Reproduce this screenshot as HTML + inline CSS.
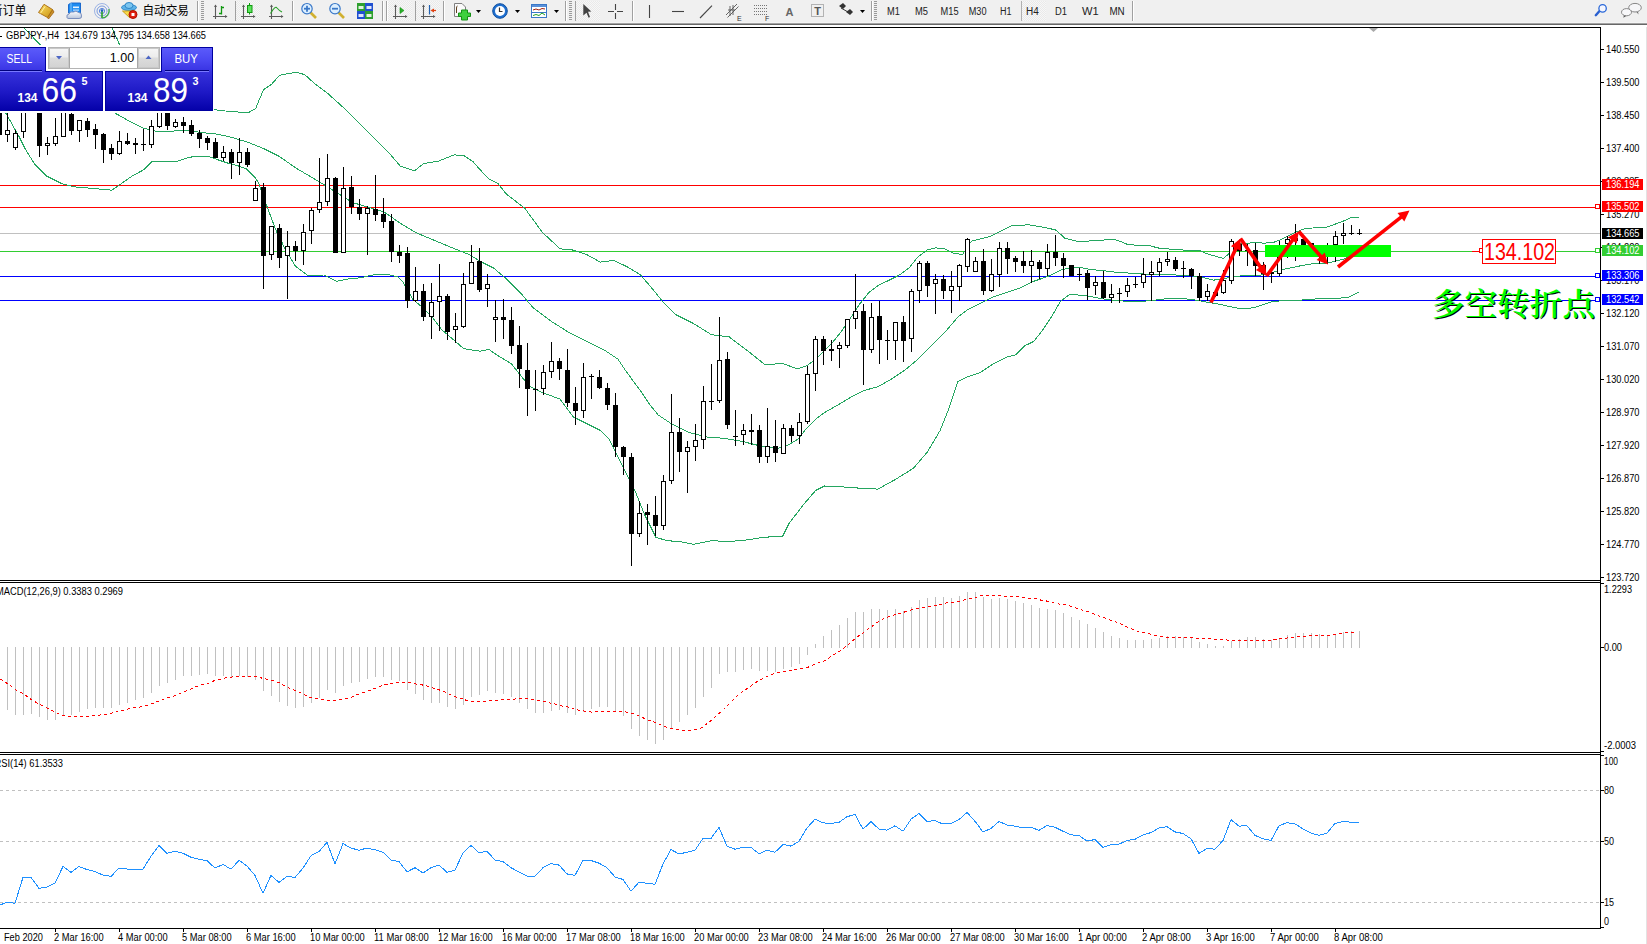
<!DOCTYPE html>
<html><head><meta charset="utf-8"><title>GBPJPY-,H4</title>
<style>html,body{margin:0;padding:0;background:#fff;overflow:hidden;width:1647px;height:944px}svg{display:block}text{white-space:pre}</style>
</head><body><svg width="1647" height="944" viewBox="0 0 1647 944"><defs>
<linearGradient id="gPanel" gradientUnits="userSpaceOnUse" x1="0" y1="47" x2="0" y2="111"><stop offset="0" stop-color="#5c5cfb"/><stop offset="0.2" stop-color="#4b48f2"/><stop offset="0.36" stop-color="#3a35e4"/><stop offset="0.4" stop-color="#3530da"/><stop offset="0.7" stop-color="#1e19c6"/><stop offset="1" stop-color="#0400a8"/></linearGradient>
<linearGradient id="gTop" x1="0" y1="0" x2="0" y2="1"><stop offset="0" stop-color="#5e5ef9"/><stop offset="1" stop-color="#3d3de9"/></linearGradient>
<linearGradient id="gBox" x1="0" y1="0" x2="0" y2="1"><stop offset="0" stop-color="#3b3be3"/><stop offset="1" stop-color="#0303ae"/></linearGradient>
<linearGradient id="gBtn" x1="0" y1="0" x2="0" y2="1"><stop offset="0" stop-color="#f6f6f6"/><stop offset="0.45" stop-color="#ececec"/><stop offset="0.5" stop-color="#dcdcdc"/><stop offset="1" stop-color="#d2d2d2"/></linearGradient>
<linearGradient id="gTb" x1="0" y1="0" x2="0" y2="1"><stop offset="0" stop-color="#d6d6d6"/><stop offset="0.33" stop-color="#a2a2a2"/><stop offset="1" stop-color="#6a6a6a"/></linearGradient>
<linearGradient id="gGold" x1="0" y1="0" x2="1" y2="1"><stop offset="0" stop-color="#ffe36a"/><stop offset="1" stop-color="#c8900e"/></linearGradient>
<linearGradient id="gCloud" x1="0" y1="0" x2="0" y2="1"><stop offset="0" stop-color="#ffffff"/><stop offset="1" stop-color="#b9c6dc"/></linearGradient>
<pattern id="chk" width="2" height="2" patternUnits="userSpaceOnUse"><rect width="2" height="2" fill="#f7f7f7"/><rect width="1" height="1" fill="#e9e9e9"/><rect x="1" y="1" width="1" height="1" fill="#e9e9e9"/></pattern>
</defs><rect x="0" y="0" width="1647" height="944" fill="#ffffff" /><rect x="0" y="185" width="1600" height="1" fill="#ff0000" /><rect x="0" y="207" width="1600" height="1" fill="#ff0000" /><rect x="0" y="233" width="1600" height="1" fill="#c0c0c0" /><rect x="0" y="251" width="1600" height="1" fill="#32cd32" /><rect x="0" y="276" width="1600" height="1" fill="#0000ff" /><rect x="0" y="300" width="1600" height="1" fill="#0000ff" /><polyline points="100.0,0.0 111.5,27.0 119.5,44.7 140.0,70.0 170.0,95.0 200.0,108.0 214.3,109.7 225.4,111.0 238.1,112.0 247.7,112.9 255.6,108.8 258.8,100.8 263.6,89.7 271.5,84.3 279.4,75.4 287.4,73.8 296.9,72.2 304.9,74.8 314.4,83.4 327.1,92.9 343.0,107.2 358.9,123.1 374.8,139.0 390.7,154.9 400.2,166.0 414.5,170.7 424.0,163.4 438.3,161.2 454.2,154.9 463.7,155.5 473.3,161.9 479.6,169.2 488.9,178.9 497.8,183.4 506.7,194.5 524.5,207.9 542.3,232.3 560.1,248.8 573.5,250.1 586.8,254.6 600.2,262.1 613.5,260.4 626.9,266.6 640.2,274.6 653.6,290.2 662.5,301.3 675.8,314.7 693.6,323.6 711.4,334.7 729.2,336.9 747.0,350.3 764.8,364.5 782.6,363.6 788.9,365.8 797.8,368.9 806.7,365.8 815.6,359.2 824.5,350.3 833.4,341.4 842.3,330.2 851.2,316.9 860.1,303.5 869.0,292.4 877.9,285.7 891.3,279.1 900.2,274.6 909.1,267.9 918.0,256.8 926.9,250.1 935.8,247.9 944.7,248.8 953.6,253.2 962.5,254.6 971.4,241.2 980.3,239.0 989.2,236.8 998.1,232.3 1011.4,225.7 1029.2,224.8 1047.0,227.9 1055.9,230.1 1064.8,238.1 1080.0,241.9 1090.6,240.9 1101.1,240.1 1115.2,239.6 1120.5,241.4 1127.5,244.4 1138.1,245.4 1150.4,245.8 1157.5,247.9 1171.6,249.3 1185.7,250.2 1199.7,250.5 1206.8,253.7 1215.6,256.3 1223.5,258.5 1227.9,254.6 1233.2,247.5 1240.2,243.7 1247.3,243.1 1256.1,242.8 1264.9,243.1 1273.7,242.3 1280.7,239.6 1287.8,236.1 1294.8,232.6 1303.6,229.1 1314.2,227.8 1326.5,227.3 1333.6,224.7 1344.1,220.8 1351.2,217.6 1358.7,217.3" fill="none" stroke="#24a660" stroke-width="1" shape-rendering="crispEdges"/><polyline points="15.0,15.0 23.3,27.0 40.0,44.7 60.0,62.0 90.0,88.0 116.4,113.9 130.4,121.7 142.8,127.9 155.2,131.0 173.9,131.0 186.3,130.4 201.8,132.6 217.3,134.1 231.8,137.4 247.7,142.2 263.6,148.5 279.4,156.5 295.3,167.6 311.2,177.1 327.1,186.6 339.8,194.6 352.5,202.5 368.4,207.3 384.3,212.1 400.2,223.2 416.1,232.7 435.1,240.7 454.2,248.6 470.1,255.0 480.0,261.3 493.4,267.9 506.7,279.1 520.1,292.4 533.4,308.0 551.2,321.3 569.0,332.5 586.8,341.4 604.6,350.3 618.0,359.2 626.9,372.5 640.2,390.3 649.1,403.7 658.0,414.8 671.4,423.7 689.2,432.6 707.0,437.0 724.8,438.4 742.6,441.5 760.4,446.0 778.2,448.2 788.9,444.6 797.8,439.3 806.7,428.1 815.6,419.2 824.5,412.6 837.9,405.0 851.2,397.0 864.6,390.3 877.9,386.8 891.3,379.2 904.6,370.3 918.0,359.2 931.3,345.8 944.7,332.5 958.0,316.9 966.9,310.2 980.3,303.5 993.5,296.9 1007.0,292.4 1020.3,288.0 1033.7,281.3 1047.0,276.8 1060.4,270.2 1069.3,267.9 1082.6,267.9 1090.6,269.6 1101.1,270.4 1115.2,272.2 1129.3,273.1 1143.4,274.0 1157.5,274.8 1171.6,274.8 1185.7,275.4 1199.7,276.6 1206.8,278.4 1213.8,280.1 1220.9,279.2 1229.7,277.5 1238.5,276.1 1247.3,275.4 1256.1,275.4 1263.2,274.8 1273.7,272.2 1282.5,269.6 1291.3,267.8 1301.9,265.5 1312.4,263.7 1326.5,263.0 1335.3,261.3 1344.1,259.0 1351.2,255.5 1358.7,253.7" fill="none" stroke="#24a660" stroke-width="1" shape-rendering="crispEdges"/><polyline points="0.0,105.0 6.2,113.9 12.4,124.8 18.6,135.7 24.8,148.1 34.2,163.6 46.6,176.0 62.1,183.8 74.5,186.9 93.1,188.4 111.7,190.2 121.2,183.7 131.8,176.3 143.4,169.9 151.9,161.4 176.3,161.4 190.0,157.2 198.5,156.1 208.0,156.4 216.5,159.3 229.2,163.6 237.7,165.7 246.2,168.9 255.7,178.4 258.8,183.5 266.7,205.7 276.3,231.1 285.8,250.2 295.3,266.1 308.0,275.6 323.9,275.0 336.6,281.3 349.3,278.8 362.0,277.6 371.0,275.2 381.0,274.3 390.0,275.0 398.0,277.0 403.0,282.0 407.0,289.0 412.9,299.4 422.4,307.4 432.0,316.9 441.5,329.6 451.0,337.6 463.7,348.7 480.0,351.2 488.9,349.4 497.8,355.6 511.2,363.6 520.1,374.7 529.0,385.9 542.3,392.5 560.1,399.2 573.5,417.0 586.8,423.7 600.2,430.4 609.1,439.3 618.0,457.1 626.9,474.9 635.8,492.7 644.7,514.9 655.8,537.2 666.9,540.7 680.3,541.6 693.6,544.3 711.4,540.7 729.2,541.6 747.0,539.9 764.8,537.2 782.6,536.3 788.9,523.8 802.3,506.0 815.6,490.5 824.5,486.0 842.3,486.9 860.1,488.2 877.9,489.1 895.7,479.3 913.5,468.2 926.9,452.6 940.2,430.4 949.1,408.1 958.0,381.4 966.9,377.0 980.3,372.5 993.6,363.6 1007.0,356.9 1015.9,354.7 1024.8,345.8 1033.7,341.4 1042.6,330.2 1051.5,316.9 1060.4,301.3 1069.3,294.6 1080.0,295.1 1090.6,296.5 1101.1,298.6 1115.2,300.4 1125.8,301.2 1136.3,301.8 1150.4,300.7 1164.5,299.0 1178.6,298.3 1192.7,299.5 1206.8,302.1 1217.3,303.9 1229.7,306.5 1238.5,308.3 1249.0,308.3 1256.1,307.1 1264.9,303.9 1273.7,301.2 1287.8,300.7 1301.9,300.0 1312.4,299.1 1326.5,298.6 1335.3,298.3 1347.7,297.7 1353.0,295.1 1358.7,291.9" fill="none" stroke="#24a660" stroke-width="1" shape-rendering="crispEdges"/><g shape-rendering="crispEdges"><rect x="-3" y="95" width="5" height="40" fill="#000" /><rect x="7" y="95" width="1" height="35" fill="#000" /><rect x="7" y="135" width="1" height="7" fill="#000" /><rect x="5" y="130" width="5" height="5" fill="#000" /><rect x="6" y="131" width="3" height="3" fill="#fff" /><rect x="15" y="130" width="1" height="3" fill="#000" /><rect x="15" y="148" width="1" height="2" fill="#000" /><rect x="13" y="133" width="5" height="15" fill="#000" /><rect x="14" y="134" width="3" height="13" fill="#fff" /><rect x="23" y="132" width="1" height="6" fill="#000" /><rect x="21" y="95" width="5" height="37" fill="#000" /><rect x="22" y="96" width="3" height="35" fill="#fff" /><rect x="39" y="146" width="1" height="11" fill="#000" /><rect x="37" y="95" width="5" height="51" fill="#000" /><rect x="47" y="137" width="1" height="6" fill="#000" /><rect x="47" y="146" width="1" height="9" fill="#000" /><rect x="45" y="143" width="5" height="3" fill="#000" /><rect x="46" y="144" width="3" height="1" fill="#fff" /><rect x="55" y="118" width="1" height="18" fill="#000" /><rect x="55" y="144" width="1" height="2" fill="#000" /><rect x="53" y="136" width="5" height="8" fill="#000" /><rect x="54" y="137" width="3" height="6" fill="#fff" /><rect x="61" y="95" width="5" height="42" fill="#000" /><rect x="62" y="96" width="3" height="40" fill="#fff" /><rect x="71" y="95" width="1" height="19" fill="#000" /><rect x="71" y="131" width="1" height="4" fill="#000" /><rect x="69" y="114" width="5" height="17" fill="#000" /><rect x="79" y="131" width="1" height="11" fill="#000" /><rect x="77" y="120" width="5" height="11" fill="#000" /><rect x="78" y="121" width="3" height="9" fill="#fff" /><rect x="87" y="118" width="1" height="3" fill="#000" /><rect x="87" y="130" width="1" height="7" fill="#000" /><rect x="85" y="121" width="5" height="9" fill="#000" /><rect x="95" y="124" width="1" height="5" fill="#000" /><rect x="95" y="135" width="1" height="14" fill="#000" /><rect x="93" y="129" width="5" height="6" fill="#000" /><rect x="103" y="133" width="1" height="1" fill="#000" /><rect x="103" y="150" width="1" height="13" fill="#000" /><rect x="101" y="134" width="5" height="16" fill="#000" /><rect x="111" y="144" width="1" height="4" fill="#000" /><rect x="111" y="154" width="1" height="6" fill="#000" /><rect x="109" y="148" width="5" height="6" fill="#000" /><rect x="119" y="131" width="1" height="10" fill="#000" /><rect x="119" y="154" width="1" height="1" fill="#000" /><rect x="117" y="141" width="5" height="13" fill="#000" /><rect x="118" y="142" width="3" height="11" fill="#fff" /><rect x="127" y="133" width="1" height="8" fill="#000" /><rect x="127" y="144" width="1" height="1" fill="#000" /><rect x="125" y="141" width="5" height="3" fill="#000" /><rect x="135" y="138" width="1" height="5" fill="#000" /><rect x="135" y="145" width="1" height="9" fill="#000" /><rect x="133" y="143" width="5" height="2" fill="#000" /><rect x="143" y="129" width="1" height="15" fill="#000" /><rect x="143" y="145" width="1" height="6" fill="#000" /><rect x="141" y="144" width="5" height="1" fill="#000" /><rect x="151" y="120" width="1" height="6" fill="#000" /><rect x="151" y="145" width="1" height="3" fill="#000" /><rect x="149" y="126" width="5" height="19" fill="#000" /><rect x="150" y="127" width="3" height="17" fill="#fff" /><rect x="159" y="127" width="1" height="1" fill="#000" /><rect x="157" y="95" width="5" height="32" fill="#000" /><rect x="158" y="96" width="3" height="30" fill="#fff" /><rect x="167" y="126" width="1" height="4" fill="#000" /><rect x="165" y="95" width="5" height="31" fill="#000" /><rect x="175" y="119" width="1" height="3" fill="#000" /><rect x="175" y="127" width="1" height="1" fill="#000" /><rect x="173" y="122" width="5" height="5" fill="#000" /><rect x="174" y="123" width="3" height="3" fill="#fff" /><rect x="183" y="117" width="1" height="5" fill="#000" /><rect x="183" y="126" width="1" height="7" fill="#000" /><rect x="181" y="122" width="5" height="4" fill="#000" /><rect x="191" y="120" width="1" height="5" fill="#000" /><rect x="191" y="134" width="1" height="2" fill="#000" /><rect x="189" y="125" width="5" height="9" fill="#000" /><rect x="199" y="130" width="1" height="3" fill="#000" /><rect x="199" y="139" width="1" height="9" fill="#000" /><rect x="197" y="133" width="5" height="6" fill="#000" /><rect x="207" y="136" width="1" height="2" fill="#000" /><rect x="207" y="143" width="1" height="7" fill="#000" /><rect x="205" y="138" width="5" height="5" fill="#000" /><rect x="215" y="138" width="1" height="4" fill="#000" /><rect x="213" y="142" width="5" height="16" fill="#000" /><rect x="223" y="146" width="1" height="6" fill="#000" /><rect x="223" y="158" width="1" height="3" fill="#000" /><rect x="221" y="152" width="5" height="6" fill="#000" /><rect x="222" y="153" width="3" height="4" fill="#fff" /><rect x="231" y="149" width="1" height="3" fill="#000" /><rect x="231" y="163" width="1" height="16" fill="#000" /><rect x="229" y="152" width="5" height="11" fill="#000" /><rect x="239" y="138" width="1" height="14" fill="#000" /><rect x="239" y="163" width="1" height="12" fill="#000" /><rect x="237" y="152" width="5" height="11" fill="#000" /><rect x="238" y="153" width="3" height="9" fill="#fff" /><rect x="247" y="148" width="1" height="4" fill="#000" /><rect x="247" y="165" width="1" height="2" fill="#000" /><rect x="245" y="152" width="5" height="13" fill="#000" /><rect x="255" y="181" width="1" height="7" fill="#000" /><rect x="253" y="188" width="5" height="13" fill="#000" /><rect x="254" y="189" width="3" height="11" fill="#fff" /><rect x="263" y="183" width="1" height="4" fill="#000" /><rect x="263" y="256" width="1" height="33" fill="#000" /><rect x="261" y="187" width="5" height="69" fill="#000" /><rect x="271" y="255" width="1" height="5" fill="#000" /><rect x="269" y="226" width="5" height="29" fill="#000" /><rect x="270" y="227" width="3" height="27" fill="#fff" /><rect x="279" y="224" width="1" height="4" fill="#000" /><rect x="279" y="258" width="1" height="10" fill="#000" /><rect x="277" y="228" width="5" height="30" fill="#000" /><rect x="287" y="231" width="1" height="15" fill="#000" /><rect x="287" y="256" width="1" height="43" fill="#000" /><rect x="285" y="246" width="5" height="10" fill="#000" /><rect x="286" y="247" width="3" height="8" fill="#fff" /><rect x="295" y="241" width="1" height="5" fill="#000" /><rect x="295" y="251" width="1" height="10" fill="#000" /><rect x="293" y="246" width="5" height="5" fill="#000" /><rect x="303" y="224" width="1" height="8" fill="#000" /><rect x="303" y="251" width="1" height="14" fill="#000" /><rect x="301" y="232" width="5" height="19" fill="#000" /><rect x="302" y="233" width="3" height="17" fill="#fff" /><rect x="311" y="208" width="1" height="2" fill="#000" /><rect x="311" y="231" width="1" height="13" fill="#000" /><rect x="309" y="210" width="5" height="21" fill="#000" /><rect x="310" y="211" width="3" height="19" fill="#fff" /><rect x="319" y="158" width="1" height="44" fill="#000" /><rect x="319" y="210" width="1" height="3" fill="#000" /><rect x="317" y="202" width="5" height="8" fill="#000" /><rect x="318" y="203" width="3" height="6" fill="#fff" /><rect x="327" y="154" width="1" height="24" fill="#000" /><rect x="327" y="202" width="1" height="4" fill="#000" /><rect x="325" y="178" width="5" height="24" fill="#000" /><rect x="326" y="179" width="3" height="22" fill="#fff" /><rect x="335" y="177" width="1" height="1" fill="#000" /><rect x="333" y="178" width="5" height="75" fill="#000" /><rect x="343" y="167" width="1" height="21" fill="#000" /><rect x="341" y="188" width="5" height="65" fill="#000" /><rect x="342" y="189" width="3" height="63" fill="#fff" /><rect x="351" y="176" width="1" height="11" fill="#000" /><rect x="351" y="207" width="1" height="7" fill="#000" /><rect x="349" y="187" width="5" height="20" fill="#000" /><rect x="359" y="199" width="1" height="8" fill="#000" /><rect x="359" y="214" width="1" height="6" fill="#000" /><rect x="357" y="207" width="5" height="7" fill="#000" /><rect x="367" y="206" width="1" height="2" fill="#000" /><rect x="367" y="214" width="1" height="41" fill="#000" /><rect x="365" y="208" width="5" height="6" fill="#000" /><rect x="366" y="209" width="3" height="4" fill="#fff" /><rect x="375" y="175" width="1" height="34" fill="#000" /><rect x="375" y="215" width="1" height="6" fill="#000" /><rect x="373" y="209" width="5" height="6" fill="#000" /><rect x="383" y="198" width="1" height="16" fill="#000" /><rect x="383" y="222" width="1" height="6" fill="#000" /><rect x="381" y="214" width="5" height="8" fill="#000" /><rect x="391" y="214" width="1" height="7" fill="#000" /><rect x="391" y="252" width="1" height="10" fill="#000" /><rect x="389" y="221" width="5" height="31" fill="#000" /><rect x="399" y="245" width="1" height="7" fill="#000" /><rect x="399" y="256" width="1" height="7" fill="#000" /><rect x="397" y="252" width="5" height="4" fill="#000" /><rect x="407" y="247" width="1" height="6" fill="#000" /><rect x="407" y="301" width="1" height="7" fill="#000" /><rect x="405" y="253" width="5" height="48" fill="#000" /><rect x="415" y="267" width="1" height="24" fill="#000" /><rect x="415" y="301" width="1" height="1" fill="#000" /><rect x="413" y="291" width="5" height="10" fill="#000" /><rect x="414" y="292" width="3" height="8" fill="#fff" /><rect x="423" y="284" width="1" height="7" fill="#000" /><rect x="423" y="317" width="1" height="4" fill="#000" /><rect x="421" y="291" width="5" height="26" fill="#000" /><rect x="431" y="283" width="1" height="19" fill="#000" /><rect x="431" y="317" width="1" height="22" fill="#000" /><rect x="429" y="302" width="5" height="15" fill="#000" /><rect x="430" y="303" width="3" height="13" fill="#fff" /><rect x="439" y="264" width="1" height="32" fill="#000" /><rect x="439" y="302" width="1" height="29" fill="#000" /><rect x="437" y="296" width="5" height="6" fill="#000" /><rect x="438" y="297" width="3" height="4" fill="#fff" /><rect x="447" y="294" width="1" height="2" fill="#000" /><rect x="447" y="332" width="1" height="8" fill="#000" /><rect x="445" y="296" width="5" height="36" fill="#000" /><rect x="455" y="313" width="1" height="13" fill="#000" /><rect x="455" y="330" width="1" height="13" fill="#000" /><rect x="453" y="326" width="5" height="4" fill="#000" /><rect x="454" y="327" width="3" height="2" fill="#fff" /><rect x="463" y="273" width="1" height="11" fill="#000" /><rect x="463" y="327" width="1" height="1" fill="#000" /><rect x="461" y="284" width="5" height="43" fill="#000" /><rect x="462" y="285" width="3" height="41" fill="#fff" /><rect x="471" y="245" width="1" height="17" fill="#000" /><rect x="469" y="262" width="5" height="22" fill="#000" /><rect x="470" y="263" width="3" height="20" fill="#fff" /><rect x="479" y="248" width="1" height="13" fill="#000" /><rect x="479" y="290" width="1" height="2" fill="#000" /><rect x="477" y="261" width="5" height="29" fill="#000" /><rect x="487" y="274" width="1" height="10" fill="#000" /><rect x="487" y="289" width="1" height="18" fill="#000" /><rect x="485" y="284" width="5" height="5" fill="#000" /><rect x="486" y="285" width="3" height="3" fill="#fff" /><rect x="495" y="300" width="1" height="17" fill="#000" /><rect x="495" y="320" width="1" height="22" fill="#000" /><rect x="493" y="317" width="5" height="3" fill="#000" /><rect x="494" y="318" width="3" height="1" fill="#fff" /><rect x="503" y="299" width="1" height="18" fill="#000" /><rect x="503" y="320" width="1" height="19" fill="#000" /><rect x="501" y="317" width="5" height="3" fill="#000" /><rect x="511" y="307" width="1" height="13" fill="#000" /><rect x="511" y="346" width="1" height="8" fill="#000" /><rect x="509" y="320" width="5" height="26" fill="#000" /><rect x="519" y="326" width="1" height="19" fill="#000" /><rect x="519" y="369" width="1" height="19" fill="#000" /><rect x="517" y="345" width="5" height="24" fill="#000" /><rect x="527" y="343" width="1" height="27" fill="#000" /><rect x="527" y="389" width="1" height="27" fill="#000" /><rect x="525" y="370" width="5" height="19" fill="#000" /><rect x="535" y="370" width="1" height="19" fill="#000" /><rect x="535" y="390" width="1" height="21" fill="#000" /><rect x="533" y="389" width="5" height="1" fill="#000" /><rect x="543" y="365" width="1" height="7" fill="#000" /><rect x="543" y="389" width="1" height="6" fill="#000" /><rect x="541" y="372" width="5" height="17" fill="#000" /><rect x="542" y="373" width="3" height="15" fill="#fff" /><rect x="551" y="342" width="1" height="19" fill="#000" /><rect x="551" y="372" width="1" height="6" fill="#000" /><rect x="549" y="361" width="5" height="11" fill="#000" /><rect x="550" y="362" width="3" height="9" fill="#fff" /><rect x="559" y="358" width="1" height="3" fill="#000" /><rect x="559" y="369" width="1" height="11" fill="#000" /><rect x="557" y="361" width="5" height="8" fill="#000" /><rect x="567" y="349" width="1" height="21" fill="#000" /><rect x="567" y="403" width="1" height="4" fill="#000" /><rect x="565" y="370" width="5" height="33" fill="#000" /><rect x="575" y="387" width="1" height="16" fill="#000" /><rect x="575" y="411" width="1" height="14" fill="#000" /><rect x="573" y="403" width="5" height="8" fill="#000" /><rect x="583" y="363" width="1" height="14" fill="#000" /><rect x="583" y="411" width="1" height="7" fill="#000" /><rect x="581" y="377" width="5" height="34" fill="#000" /><rect x="582" y="378" width="3" height="32" fill="#fff" /><rect x="591" y="374" width="1" height="2" fill="#000" /><rect x="591" y="377" width="1" height="22" fill="#000" /><rect x="589" y="376" width="5" height="1" fill="#000" /><rect x="599" y="370" width="1" height="7" fill="#000" /><rect x="599" y="388" width="1" height="1" fill="#000" /><rect x="597" y="377" width="5" height="11" fill="#000" /><rect x="607" y="383" width="1" height="5" fill="#000" /><rect x="607" y="405" width="1" height="5" fill="#000" /><rect x="605" y="388" width="5" height="17" fill="#000" /><rect x="615" y="393" width="1" height="12" fill="#000" /><rect x="615" y="447" width="1" height="10" fill="#000" /><rect x="613" y="405" width="5" height="42" fill="#000" /><rect x="623" y="446" width="1" height="1" fill="#000" /><rect x="623" y="457" width="1" height="18" fill="#000" /><rect x="621" y="447" width="5" height="10" fill="#000" /><rect x="631" y="453" width="1" height="4" fill="#000" /><rect x="631" y="534" width="1" height="32" fill="#000" /><rect x="629" y="457" width="5" height="77" fill="#000" /><rect x="639" y="501" width="1" height="12" fill="#000" /><rect x="639" y="534" width="1" height="3" fill="#000" /><rect x="637" y="513" width="5" height="21" fill="#000" /><rect x="638" y="514" width="3" height="19" fill="#fff" /><rect x="647" y="504" width="1" height="8" fill="#000" /><rect x="647" y="515" width="1" height="30" fill="#000" /><rect x="645" y="512" width="5" height="3" fill="#000" /><rect x="655" y="496" width="1" height="19" fill="#000" /><rect x="655" y="526" width="1" height="10" fill="#000" /><rect x="653" y="515" width="5" height="11" fill="#000" /><rect x="663" y="475" width="1" height="6" fill="#000" /><rect x="663" y="526" width="1" height="4" fill="#000" /><rect x="661" y="481" width="5" height="45" fill="#000" /><rect x="662" y="482" width="3" height="43" fill="#fff" /><rect x="671" y="394" width="1" height="38" fill="#000" /><rect x="671" y="481" width="1" height="3" fill="#000" /><rect x="669" y="432" width="5" height="49" fill="#000" /><rect x="670" y="433" width="3" height="47" fill="#fff" /><rect x="679" y="418" width="1" height="14" fill="#000" /><rect x="679" y="452" width="1" height="20" fill="#000" /><rect x="677" y="432" width="5" height="20" fill="#000" /><rect x="687" y="441" width="1" height="6" fill="#000" /><rect x="687" y="452" width="1" height="41" fill="#000" /><rect x="685" y="447" width="5" height="5" fill="#000" /><rect x="686" y="448" width="3" height="3" fill="#fff" /><rect x="695" y="424" width="1" height="16" fill="#000" /><rect x="695" y="447" width="1" height="14" fill="#000" /><rect x="693" y="440" width="5" height="7" fill="#000" /><rect x="694" y="441" width="3" height="5" fill="#fff" /><rect x="703" y="386" width="1" height="15" fill="#000" /><rect x="703" y="440" width="1" height="9" fill="#000" /><rect x="701" y="401" width="5" height="39" fill="#000" /><rect x="702" y="402" width="3" height="37" fill="#fff" /><rect x="711" y="364" width="1" height="37" fill="#000" /><rect x="711" y="402" width="1" height="8" fill="#000" /><rect x="709" y="401" width="5" height="1" fill="#000" /><rect x="719" y="317" width="1" height="43" fill="#000" /><rect x="719" y="401" width="1" height="2" fill="#000" /><rect x="717" y="360" width="5" height="41" fill="#000" /><rect x="718" y="361" width="3" height="39" fill="#fff" /><rect x="727" y="352" width="1" height="7" fill="#000" /><rect x="727" y="425" width="1" height="4" fill="#000" /><rect x="725" y="359" width="5" height="66" fill="#000" /><rect x="735" y="410" width="1" height="26" fill="#000" /><rect x="735" y="437" width="1" height="9" fill="#000" /><rect x="733" y="436" width="5" height="1" fill="#000" /><rect x="743" y="424" width="1" height="6" fill="#000" /><rect x="743" y="435" width="1" height="10" fill="#000" /><rect x="741" y="430" width="5" height="5" fill="#000" /><rect x="742" y="431" width="3" height="3" fill="#fff" /><rect x="751" y="414" width="1" height="16" fill="#000" /><rect x="751" y="432" width="1" height="13" fill="#000" /><rect x="749" y="430" width="5" height="2" fill="#000" /><rect x="759" y="425" width="1" height="5" fill="#000" /><rect x="759" y="457" width="1" height="6" fill="#000" /><rect x="757" y="430" width="5" height="27" fill="#000" /><rect x="767" y="408" width="1" height="38" fill="#000" /><rect x="767" y="457" width="1" height="6" fill="#000" /><rect x="765" y="446" width="5" height="11" fill="#000" /><rect x="766" y="447" width="3" height="9" fill="#fff" /><rect x="775" y="420" width="1" height="26" fill="#000" /><rect x="775" y="453" width="1" height="9" fill="#000" /><rect x="773" y="446" width="5" height="7" fill="#000" /><rect x="783" y="424" width="1" height="4" fill="#000" /><rect x="781" y="428" width="5" height="26" fill="#000" /><rect x="782" y="429" width="3" height="24" fill="#fff" /><rect x="791" y="425" width="1" height="3" fill="#000" /><rect x="791" y="436" width="1" height="6" fill="#000" /><rect x="789" y="428" width="5" height="8" fill="#000" /><rect x="799" y="413" width="1" height="9" fill="#000" /><rect x="799" y="436" width="1" height="8" fill="#000" /><rect x="797" y="422" width="5" height="14" fill="#000" /><rect x="798" y="423" width="3" height="12" fill="#fff" /><rect x="807" y="366" width="1" height="8" fill="#000" /><rect x="807" y="422" width="1" height="2" fill="#000" /><rect x="805" y="374" width="5" height="48" fill="#000" /><rect x="806" y="375" width="3" height="46" fill="#fff" /><rect x="815" y="336" width="1" height="3" fill="#000" /><rect x="815" y="374" width="1" height="17" fill="#000" /><rect x="813" y="339" width="5" height="35" fill="#000" /><rect x="814" y="340" width="3" height="33" fill="#fff" /><rect x="823" y="336" width="1" height="3" fill="#000" /><rect x="823" y="351" width="1" height="14" fill="#000" /><rect x="821" y="339" width="5" height="12" fill="#000" /><rect x="831" y="340" width="1" height="9" fill="#000" /><rect x="831" y="351" width="1" height="10" fill="#000" /><rect x="829" y="349" width="5" height="2" fill="#000" /><rect x="839" y="342" width="1" height="3" fill="#000" /><rect x="839" y="349" width="1" height="19" fill="#000" /><rect x="837" y="345" width="5" height="4" fill="#000" /><rect x="838" y="346" width="3" height="2" fill="#fff" /><rect x="847" y="346" width="1" height="2" fill="#000" /><rect x="845" y="319" width="5" height="27" fill="#000" /><rect x="846" y="320" width="3" height="25" fill="#fff" /><rect x="855" y="274" width="1" height="37" fill="#000" /><rect x="855" y="319" width="1" height="10" fill="#000" /><rect x="853" y="311" width="5" height="8" fill="#000" /><rect x="854" y="312" width="3" height="6" fill="#fff" /><rect x="863" y="304" width="1" height="7" fill="#000" /><rect x="863" y="350" width="1" height="35" fill="#000" /><rect x="861" y="311" width="5" height="39" fill="#000" /><rect x="871" y="303" width="1" height="14" fill="#000" /><rect x="871" y="350" width="1" height="3" fill="#000" /><rect x="869" y="317" width="5" height="33" fill="#000" /><rect x="870" y="318" width="3" height="31" fill="#fff" /><rect x="879" y="301" width="1" height="15" fill="#000" /><rect x="879" y="340" width="1" height="24" fill="#000" /><rect x="877" y="316" width="5" height="24" fill="#000" /><rect x="887" y="330" width="1" height="10" fill="#000" /><rect x="887" y="341" width="1" height="19" fill="#000" /><rect x="885" y="340" width="5" height="1" fill="#000" /><rect x="895" y="341" width="1" height="19" fill="#000" /><rect x="893" y="322" width="5" height="19" fill="#000" /><rect x="894" y="323" width="3" height="17" fill="#fff" /><rect x="903" y="316" width="1" height="6" fill="#000" /><rect x="903" y="341" width="1" height="21" fill="#000" /><rect x="901" y="322" width="5" height="19" fill="#000" /><rect x="911" y="289" width="1" height="2" fill="#000" /><rect x="911" y="339" width="1" height="13" fill="#000" /><rect x="909" y="291" width="5" height="48" fill="#000" /><rect x="910" y="292" width="3" height="46" fill="#fff" /><rect x="919" y="261" width="1" height="2" fill="#000" /><rect x="919" y="291" width="1" height="12" fill="#000" /><rect x="917" y="263" width="5" height="28" fill="#000" /><rect x="918" y="264" width="3" height="26" fill="#fff" /><rect x="927" y="261" width="1" height="2" fill="#000" /><rect x="927" y="286" width="1" height="11" fill="#000" /><rect x="925" y="263" width="5" height="23" fill="#000" /><rect x="935" y="274" width="1" height="5" fill="#000" /><rect x="935" y="284" width="1" height="30" fill="#000" /><rect x="933" y="279" width="5" height="5" fill="#000" /><rect x="934" y="280" width="3" height="3" fill="#fff" /><rect x="943" y="275" width="1" height="4" fill="#000" /><rect x="943" y="291" width="1" height="8" fill="#000" /><rect x="941" y="279" width="5" height="12" fill="#000" /><rect x="951" y="271" width="1" height="15" fill="#000" /><rect x="951" y="291" width="1" height="22" fill="#000" /><rect x="949" y="286" width="5" height="5" fill="#000" /><rect x="950" y="287" width="3" height="3" fill="#fff" /><rect x="959" y="264" width="1" height="1" fill="#000" /><rect x="959" y="287" width="1" height="14" fill="#000" /><rect x="957" y="265" width="5" height="22" fill="#000" /><rect x="958" y="266" width="3" height="20" fill="#fff" /><rect x="967" y="238" width="1" height="1" fill="#000" /><rect x="967" y="267" width="1" height="5" fill="#000" /><rect x="965" y="239" width="5" height="28" fill="#000" /><rect x="966" y="240" width="3" height="26" fill="#fff" /><rect x="975" y="257" width="1" height="4" fill="#000" /><rect x="973" y="261" width="5" height="11" fill="#000" /><rect x="974" y="262" width="3" height="9" fill="#fff" /><rect x="983" y="249" width="1" height="12" fill="#000" /><rect x="983" y="291" width="1" height="4" fill="#000" /><rect x="981" y="261" width="5" height="30" fill="#000" /><rect x="991" y="259" width="1" height="15" fill="#000" /><rect x="991" y="291" width="1" height="1" fill="#000" /><rect x="989" y="274" width="5" height="17" fill="#000" /><rect x="990" y="275" width="3" height="15" fill="#fff" /><rect x="999" y="242" width="1" height="6" fill="#000" /><rect x="999" y="275" width="1" height="12" fill="#000" /><rect x="997" y="248" width="5" height="27" fill="#000" /><rect x="998" y="249" width="3" height="25" fill="#fff" /><rect x="1007" y="242" width="1" height="6" fill="#000" /><rect x="1007" y="259" width="1" height="15" fill="#000" /><rect x="1005" y="248" width="5" height="11" fill="#000" /><rect x="1015" y="256" width="1" height="2" fill="#000" /><rect x="1015" y="262" width="1" height="10" fill="#000" /><rect x="1013" y="258" width="5" height="4" fill="#000" /><rect x="1023" y="251" width="1" height="10" fill="#000" /><rect x="1023" y="266" width="1" height="7" fill="#000" /><rect x="1021" y="261" width="5" height="5" fill="#000" /><rect x="1031" y="250" width="1" height="11" fill="#000" /><rect x="1031" y="266" width="1" height="17" fill="#000" /><rect x="1029" y="261" width="5" height="5" fill="#000" /><rect x="1030" y="262" width="3" height="3" fill="#fff" /><rect x="1039" y="260" width="1" height="2" fill="#000" /><rect x="1039" y="269" width="1" height="10" fill="#000" /><rect x="1037" y="262" width="5" height="7" fill="#000" /><rect x="1047" y="244" width="1" height="8" fill="#000" /><rect x="1047" y="269" width="1" height="7" fill="#000" /><rect x="1045" y="252" width="5" height="17" fill="#000" /><rect x="1046" y="253" width="3" height="15" fill="#fff" /><rect x="1055" y="235" width="1" height="17" fill="#000" /><rect x="1055" y="258" width="1" height="8" fill="#000" /><rect x="1053" y="252" width="5" height="6" fill="#000" /><rect x="1063" y="253" width="1" height="5" fill="#000" /><rect x="1063" y="266" width="1" height="12" fill="#000" /><rect x="1061" y="258" width="5" height="8" fill="#000" /><rect x="1069" y="265" width="5" height="11" fill="#000" /><rect x="1079" y="268" width="1" height="6" fill="#000" /><rect x="1079" y="275" width="1" height="6" fill="#000" /><rect x="1077" y="274" width="5" height="1" fill="#000" /><rect x="1087" y="270" width="1" height="3" fill="#000" /><rect x="1087" y="288" width="1" height="12" fill="#000" /><rect x="1085" y="273" width="5" height="15" fill="#000" /><rect x="1095" y="276" width="1" height="6" fill="#000" /><rect x="1095" y="286" width="1" height="9" fill="#000" /><rect x="1093" y="282" width="5" height="4" fill="#000" /><rect x="1094" y="283" width="3" height="2" fill="#fff" /><rect x="1103" y="271" width="1" height="11" fill="#000" /><rect x="1103" y="298" width="1" height="1" fill="#000" /><rect x="1101" y="282" width="5" height="16" fill="#000" /><rect x="1111" y="284" width="1" height="10" fill="#000" /><rect x="1111" y="298" width="1" height="5" fill="#000" /><rect x="1109" y="294" width="5" height="4" fill="#000" /><rect x="1110" y="295" width="3" height="2" fill="#fff" /><rect x="1119" y="288" width="1" height="5" fill="#000" /><rect x="1119" y="294" width="1" height="9" fill="#000" /><rect x="1117" y="293" width="5" height="1" fill="#000" /><rect x="1127" y="278" width="1" height="7" fill="#000" /><rect x="1127" y="292" width="1" height="5" fill="#000" /><rect x="1125" y="285" width="5" height="7" fill="#000" /><rect x="1126" y="286" width="3" height="5" fill="#fff" /><rect x="1135" y="277" width="1" height="7" fill="#000" /><rect x="1135" y="285" width="1" height="3" fill="#000" /><rect x="1133" y="284" width="5" height="1" fill="#000" /><rect x="1143" y="258" width="1" height="16" fill="#000" /><rect x="1143" y="283" width="1" height="5" fill="#000" /><rect x="1141" y="274" width="5" height="9" fill="#000" /><rect x="1142" y="275" width="3" height="7" fill="#fff" /><rect x="1151" y="261" width="1" height="11" fill="#000" /><rect x="1151" y="275" width="1" height="26" fill="#000" /><rect x="1149" y="272" width="5" height="3" fill="#000" /><rect x="1150" y="273" width="3" height="1" fill="#fff" /><rect x="1159" y="258" width="1" height="4" fill="#000" /><rect x="1159" y="272" width="1" height="4" fill="#000" /><rect x="1157" y="262" width="5" height="10" fill="#000" /><rect x="1158" y="263" width="3" height="8" fill="#fff" /><rect x="1167" y="252" width="1" height="7" fill="#000" /><rect x="1167" y="262" width="1" height="4" fill="#000" /><rect x="1165" y="259" width="5" height="3" fill="#000" /><rect x="1166" y="260" width="3" height="1" fill="#fff" /><rect x="1175" y="257" width="1" height="3" fill="#000" /><rect x="1175" y="269" width="1" height="2" fill="#000" /><rect x="1173" y="260" width="5" height="9" fill="#000" /><rect x="1183" y="261" width="1" height="7" fill="#000" /><rect x="1183" y="269" width="1" height="9" fill="#000" /><rect x="1181" y="268" width="5" height="1" fill="#000" /><rect x="1191" y="268" width="1" height="1" fill="#000" /><rect x="1191" y="276" width="1" height="13" fill="#000" /><rect x="1189" y="269" width="5" height="7" fill="#000" /><rect x="1199" y="273" width="1" height="3" fill="#000" /><rect x="1199" y="298" width="1" height="3" fill="#000" /><rect x="1197" y="276" width="5" height="22" fill="#000" /><rect x="1207" y="284" width="1" height="7" fill="#000" /><rect x="1207" y="297" width="1" height="4" fill="#000" /><rect x="1205" y="291" width="5" height="6" fill="#000" /><rect x="1206" y="292" width="3" height="4" fill="#fff" /><rect x="1215" y="290" width="1" height="2" fill="#000" /><rect x="1215" y="296" width="1" height="1" fill="#000" /><rect x="1213" y="292" width="5" height="4" fill="#000" /><rect x="1223" y="270" width="1" height="10" fill="#000" /><rect x="1223" y="293" width="1" height="1" fill="#000" /><rect x="1221" y="280" width="5" height="13" fill="#000" /><rect x="1222" y="281" width="3" height="11" fill="#fff" /><rect x="1231" y="239" width="1" height="2" fill="#000" /><rect x="1231" y="281" width="1" height="3" fill="#000" /><rect x="1229" y="241" width="5" height="40" fill="#000" /><rect x="1230" y="242" width="3" height="38" fill="#fff" /><rect x="1239" y="240" width="1" height="4" fill="#000" /><rect x="1239" y="251" width="1" height="5" fill="#000" /><rect x="1237" y="244" width="5" height="7" fill="#000" /><rect x="1247" y="244" width="1" height="6" fill="#000" /><rect x="1247" y="251" width="1" height="15" fill="#000" /><rect x="1245" y="250" width="5" height="1" fill="#000" /><rect x="1255" y="243" width="1" height="7" fill="#000" /><rect x="1255" y="266" width="1" height="10" fill="#000" /><rect x="1253" y="250" width="5" height="16" fill="#000" /><rect x="1263" y="262" width="1" height="3" fill="#000" /><rect x="1263" y="274" width="1" height="16" fill="#000" /><rect x="1261" y="265" width="5" height="9" fill="#000" /><rect x="1271" y="270" width="1" height="2" fill="#000" /><rect x="1271" y="274" width="1" height="9" fill="#000" /><rect x="1269" y="272" width="5" height="2" fill="#000" /><rect x="1279" y="241" width="1" height="4" fill="#000" /><rect x="1279" y="274" width="1" height="2" fill="#000" /><rect x="1277" y="245" width="5" height="29" fill="#000" /><rect x="1278" y="246" width="3" height="27" fill="#fff" /><rect x="1287" y="236" width="1" height="3" fill="#000" /><rect x="1287" y="244" width="1" height="14" fill="#000" /><rect x="1285" y="239" width="5" height="5" fill="#000" /><rect x="1286" y="240" width="3" height="3" fill="#fff" /><rect x="1295" y="224" width="1" height="14" fill="#000" /><rect x="1295" y="241" width="1" height="20" fill="#000" /><rect x="1293" y="238" width="5" height="3" fill="#000" /><rect x="1294" y="239" width="3" height="1" fill="#fff" /><rect x="1303" y="245" width="1" height="5" fill="#000" /><rect x="1301" y="239" width="5" height="6" fill="#000" /><rect x="1311" y="252" width="1" height="4" fill="#000" /><rect x="1309" y="243" width="5" height="9" fill="#000" /><rect x="1319" y="256" width="1" height="8" fill="#000" /><rect x="1317" y="250" width="5" height="6" fill="#000" /><rect x="1327" y="243" width="1" height="7" fill="#000" /><rect x="1327" y="255" width="1" height="9" fill="#000" /><rect x="1325" y="250" width="5" height="5" fill="#000" /><rect x="1326" y="251" width="3" height="3" fill="#fff" /><rect x="1335" y="231" width="1" height="5" fill="#000" /><rect x="1335" y="245" width="1" height="17" fill="#000" /><rect x="1333" y="236" width="5" height="9" fill="#000" /><rect x="1334" y="237" width="3" height="7" fill="#fff" /><rect x="1343" y="223" width="1" height="10" fill="#000" /><rect x="1343" y="236" width="1" height="8" fill="#000" /><rect x="1341" y="233" width="5" height="3" fill="#000" /><rect x="1342" y="234" width="3" height="1" fill="#fff" /><rect x="1351" y="225" width="1" height="8" fill="#000" /><rect x="1351" y="234" width="1" height="1" fill="#000" /><rect x="1349" y="233" width="5" height="1" fill="#000" /><rect x="1359" y="229" width="1" height="4" fill="#000" /><rect x="1359" y="234" width="1" height="1" fill="#000" /><rect x="1357" y="233" width="5" height="1" fill="#000" /></g><rect x="1265" y="245" width="126" height="12" fill="#00ff00" /><line x1="1211" y1="302.5" x2="1236.7" y2="246.7" stroke="#ff0000" stroke-width="3.6" stroke-linecap="butt"/><polygon points="1240.5,238.5 1240.9,250.8 1230.9,246.2" fill="#ff0000"/><line x1="1240.5" y1="238.5" x2="1261.5" y2="268.6" stroke="#ff0000" stroke-width="3.6" stroke-linecap="butt"/><polygon points="1266.7,276 1255.9,270.1 1264.9,263.8" fill="#ff0000"/><line x1="1266.7" y1="276" x2="1293.5" y2="238.8" stroke="#ff0000" stroke-width="3.6" stroke-linecap="butt"/><polygon points="1298.8,231.5 1296.8,243.6 1287.9,237.2" fill="#ff0000"/><line x1="1298.8" y1="231.5" x2="1322.0" y2="257.8" stroke="#ff0000" stroke-width="3.6" stroke-linecap="butt"/><polygon points="1328,264.5 1316.6,259.9 1324.8,252.6" fill="#ff0000"/><line x1="1338" y1="267" x2="1402.4" y2="216.1" stroke="#ff0000" stroke-width="3.6" stroke-linecap="butt"/><polygon points="1409.5,210.5 1404.3,221.6 1397.5,213.0" fill="#ff0000"/><g shape-rendering="crispEdges"><rect x="1472" y="251" width="8" height="1" fill="#ff0000" /><rect x="1479.5" y="248.5" width="3" height="4" fill="#fff" stroke="#ff0000" stroke-width="1"/><rect x="1482.5" y="239.5" width="73" height="24" fill="#fff" stroke="#ff0000" stroke-width="1"/></g><text x="1484" y="260" font-family="'Liberation Sans', 'DejaVu Sans', Arial, sans-serif" font-size="23" fill="#ff0000" text-anchor="start" font-weight="normal" textLength="71" lengthAdjust="spacingAndGlyphs" >134.102</text><text x="1432" y="315" font-family="'Liberation Serif', 'Noto Serif CJK SC', serif" font-size="31" font-weight="600" fill="#000" textLength="163" lengthAdjust="spacingAndGlyphs" transform="translate(1,1)">多空转折点</text><text x="1432" y="315" font-family="'Liberation Serif', 'Noto Serif CJK SC', serif" font-size="31" font-weight="600" fill="#00ff00" textLength="163" lengthAdjust="spacingAndGlyphs">多空转折点</text><g shape-rendering="crispEdges"><rect x="1595.5" y="204.5" width="4" height="4" fill="#fff" stroke="#ff0000" stroke-width="1"/><rect x="1595.5" y="248.5" width="4" height="4" fill="#fff" stroke="#32cd32" stroke-width="1"/><rect x="1595.5" y="273.5" width="4" height="4" fill="#fff" stroke="#0000ff" stroke-width="1"/><rect x="1595.5" y="297.5" width="4" height="4" fill="#fff" stroke="#0000ff" stroke-width="1"/></g><g shape-rendering="crispEdges"><rect x="7" y="647" width="1" height="63" fill="#c0c0c0" /><rect x="15" y="647" width="1" height="68" fill="#c0c0c0" /><rect x="23" y="647" width="1" height="68" fill="#c0c0c0" /><rect x="31" y="647" width="1" height="67" fill="#c0c0c0" /><rect x="39" y="647" width="1" height="70" fill="#c0c0c0" /><rect x="47" y="647" width="1" height="73" fill="#c0c0c0" /><rect x="55" y="647" width="1" height="73" fill="#c0c0c0" /><rect x="63" y="647" width="1" height="68" fill="#c0c0c0" /><rect x="71" y="647" width="1" height="68" fill="#c0c0c0" /><rect x="79" y="647" width="1" height="65" fill="#c0c0c0" /><rect x="87" y="647" width="1" height="62" fill="#c0c0c0" /><rect x="95" y="647" width="1" height="61" fill="#c0c0c0" /><rect x="103" y="647" width="1" height="61" fill="#c0c0c0" /><rect x="111" y="647" width="1" height="61" fill="#c0c0c0" /><rect x="119" y="647" width="1" height="58" fill="#c0c0c0" /><rect x="127" y="647" width="1" height="56" fill="#c0c0c0" /><rect x="135" y="647" width="1" height="53" fill="#c0c0c0" /><rect x="143" y="647" width="1" height="51" fill="#c0c0c0" /><rect x="151" y="647" width="1" height="46" fill="#c0c0c0" /><rect x="159" y="647" width="1" height="39" fill="#c0c0c0" /><rect x="167" y="647" width="1" height="36" fill="#c0c0c0" /><rect x="175" y="647" width="1" height="33" fill="#c0c0c0" /><rect x="183" y="647" width="1" height="29" fill="#c0c0c0" /><rect x="191" y="647" width="1" height="29" fill="#c0c0c0" /><rect x="199" y="647" width="1" height="28" fill="#c0c0c0" /><rect x="207" y="647" width="1" height="27" fill="#c0c0c0" /><rect x="215" y="647" width="1" height="29" fill="#c0c0c0" /><rect x="223" y="647" width="1" height="29" fill="#c0c0c0" /><rect x="231" y="647" width="1" height="30" fill="#c0c0c0" /><rect x="239" y="647" width="1" height="29" fill="#c0c0c0" /><rect x="247" y="647" width="1" height="30" fill="#c0c0c0" /><rect x="255" y="647" width="1" height="33" fill="#c0c0c0" /><rect x="263" y="647" width="1" height="44" fill="#c0c0c0" /><rect x="271" y="647" width="1" height="49" fill="#c0c0c0" /><rect x="279" y="647" width="1" height="55" fill="#c0c0c0" /><rect x="287" y="647" width="1" height="59" fill="#c0c0c0" /><rect x="295" y="647" width="1" height="61" fill="#c0c0c0" /><rect x="303" y="647" width="1" height="60" fill="#c0c0c0" /><rect x="311" y="647" width="1" height="56" fill="#c0c0c0" /><rect x="319" y="647" width="1" height="51" fill="#c0c0c0" /><rect x="327" y="647" width="1" height="43" fill="#c0c0c0" /><rect x="335" y="647" width="1" height="46" fill="#c0c0c0" /><rect x="343" y="647" width="1" height="39" fill="#c0c0c0" /><rect x="351" y="647" width="1" height="36" fill="#c0c0c0" /><rect x="359" y="647" width="1" height="35" fill="#c0c0c0" /><rect x="367" y="647" width="1" height="32" fill="#c0c0c0" /><rect x="375" y="647" width="1" height="30" fill="#c0c0c0" /><rect x="383" y="647" width="1" height="30" fill="#c0c0c0" /><rect x="391" y="647" width="1" height="33" fill="#c0c0c0" /><rect x="399" y="647" width="1" height="34" fill="#c0c0c0" /><rect x="407" y="647" width="1" height="43" fill="#c0c0c0" /><rect x="415" y="647" width="1" height="47" fill="#c0c0c0" /><rect x="423" y="647" width="1" height="53" fill="#c0c0c0" /><rect x="431" y="647" width="1" height="56" fill="#c0c0c0" /><rect x="439" y="647" width="1" height="56" fill="#c0c0c0" /><rect x="447" y="647" width="1" height="60" fill="#c0c0c0" /><rect x="455" y="647" width="1" height="62" fill="#c0c0c0" /><rect x="463" y="647" width="1" height="58" fill="#c0c0c0" /><rect x="471" y="647" width="1" height="50" fill="#c0c0c0" /><rect x="479" y="647" width="1" height="48" fill="#c0c0c0" /><rect x="487" y="647" width="1" height="44" fill="#c0c0c0" /><rect x="495" y="647" width="1" height="46" fill="#c0c0c0" /><rect x="503" y="647" width="1" height="47" fill="#c0c0c0" /><rect x="511" y="647" width="1" height="50" fill="#c0c0c0" /><rect x="519" y="647" width="1" height="56" fill="#c0c0c0" /><rect x="527" y="647" width="1" height="62" fill="#c0c0c0" /><rect x="535" y="647" width="1" height="66" fill="#c0c0c0" /><rect x="543" y="647" width="1" height="66" fill="#c0c0c0" /><rect x="551" y="647" width="1" height="64" fill="#c0c0c0" /><rect x="559" y="647" width="1" height="63" fill="#c0c0c0" /><rect x="567" y="647" width="1" height="66" fill="#c0c0c0" /><rect x="575" y="647" width="1" height="68" fill="#c0c0c0" /><rect x="583" y="647" width="1" height="65" fill="#c0c0c0" /><rect x="591" y="647" width="1" height="62" fill="#c0c0c0" /><rect x="599" y="647" width="1" height="60" fill="#c0c0c0" /><rect x="607" y="647" width="1" height="60" fill="#c0c0c0" /><rect x="615" y="647" width="1" height="64" fill="#c0c0c0" /><rect x="623" y="647" width="1" height="69" fill="#c0c0c0" /><rect x="631" y="647" width="1" height="82" fill="#c0c0c0" /><rect x="639" y="647" width="1" height="89" fill="#c0c0c0" /><rect x="647" y="647" width="1" height="93" fill="#c0c0c0" /><rect x="655" y="647" width="1" height="97" fill="#c0c0c0" /><rect x="663" y="647" width="1" height="93" fill="#c0c0c0" /><rect x="671" y="647" width="1" height="82" fill="#c0c0c0" /><rect x="679" y="647" width="1" height="75" fill="#c0c0c0" /><rect x="687" y="647" width="1" height="68" fill="#c0c0c0" /><rect x="695" y="647" width="1" height="61" fill="#c0c0c0" /><rect x="703" y="647" width="1" height="50" fill="#c0c0c0" /><rect x="711" y="647" width="1" height="41" fill="#c0c0c0" /><rect x="719" y="647" width="1" height="27" fill="#c0c0c0" /><rect x="727" y="647" width="1" height="25" fill="#c0c0c0" /><rect x="735" y="647" width="1" height="25" fill="#c0c0c0" /><rect x="743" y="647" width="1" height="23" fill="#c0c0c0" /><rect x="751" y="647" width="1" height="22" fill="#c0c0c0" /><rect x="759" y="647" width="1" height="24" fill="#c0c0c0" /><rect x="767" y="647" width="1" height="24" fill="#c0c0c0" /><rect x="775" y="647" width="1" height="25" fill="#c0c0c0" /><rect x="783" y="647" width="1" height="22" fill="#c0c0c0" /><rect x="791" y="647" width="1" height="20" fill="#c0c0c0" /><rect x="799" y="647" width="1" height="17" fill="#c0c0c0" /><rect x="807" y="647" width="1" height="8" fill="#c0c0c0" /><rect x="815" y="644" width="1" height="4" fill="#c0c0c0" /><rect x="823" y="636" width="1" height="12" fill="#c0c0c0" /><rect x="831" y="630" width="1" height="18" fill="#c0c0c0" /><rect x="839" y="625" width="1" height="23" fill="#c0c0c0" /><rect x="847" y="618" width="1" height="30" fill="#c0c0c0" /><rect x="855" y="612" width="1" height="36" fill="#c0c0c0" /><rect x="863" y="612" width="1" height="36" fill="#c0c0c0" /><rect x="871" y="609" width="1" height="39" fill="#c0c0c0" /><rect x="879" y="609" width="1" height="39" fill="#c0c0c0" /><rect x="887" y="610" width="1" height="38" fill="#c0c0c0" /><rect x="895" y="609" width="1" height="39" fill="#c0c0c0" /><rect x="903" y="611" width="1" height="37" fill="#c0c0c0" /><rect x="911" y="607" width="1" height="41" fill="#c0c0c0" /><rect x="919" y="600" width="1" height="48" fill="#c0c0c0" /><rect x="927" y="598" width="1" height="50" fill="#c0c0c0" /><rect x="935" y="597" width="1" height="51" fill="#c0c0c0" /><rect x="943" y="597" width="1" height="51" fill="#c0c0c0" /><rect x="951" y="598" width="1" height="50" fill="#c0c0c0" /><rect x="959" y="596" width="1" height="52" fill="#c0c0c0" /><rect x="967" y="592" width="1" height="56" fill="#c0c0c0" /><rect x="975" y="592" width="1" height="56" fill="#c0c0c0" /><rect x="983" y="597" width="1" height="51" fill="#c0c0c0" /><rect x="991" y="599" width="1" height="49" fill="#c0c0c0" /><rect x="999" y="598" width="1" height="50" fill="#c0c0c0" /><rect x="1007" y="599" width="1" height="49" fill="#c0c0c0" /><rect x="1015" y="601" width="1" height="47" fill="#c0c0c0" /><rect x="1023" y="603" width="1" height="45" fill="#c0c0c0" /><rect x="1031" y="605" width="1" height="43" fill="#c0c0c0" /><rect x="1039" y="608" width="1" height="40" fill="#c0c0c0" /><rect x="1047" y="609" width="1" height="39" fill="#c0c0c0" /><rect x="1055" y="610" width="1" height="38" fill="#c0c0c0" /><rect x="1063" y="613" width="1" height="35" fill="#c0c0c0" /><rect x="1071" y="617" width="1" height="31" fill="#c0c0c0" /><rect x="1079" y="620" width="1" height="28" fill="#c0c0c0" /><rect x="1087" y="624" width="1" height="24" fill="#c0c0c0" /><rect x="1095" y="628" width="1" height="20" fill="#c0c0c0" /><rect x="1103" y="632" width="1" height="16" fill="#c0c0c0" /><rect x="1111" y="636" width="1" height="12" fill="#c0c0c0" /><rect x="1119" y="638" width="1" height="10" fill="#c0c0c0" /><rect x="1127" y="640" width="1" height="8" fill="#c0c0c0" /><rect x="1135" y="640" width="1" height="8" fill="#c0c0c0" /><rect x="1143" y="640" width="1" height="8" fill="#c0c0c0" /><rect x="1151" y="639" width="1" height="9" fill="#c0c0c0" /><rect x="1159" y="638" width="1" height="10" fill="#c0c0c0" /><rect x="1167" y="636" width="1" height="12" fill="#c0c0c0" /><rect x="1175" y="636" width="1" height="12" fill="#c0c0c0" /><rect x="1183" y="637" width="1" height="11" fill="#c0c0c0" /><rect x="1191" y="637" width="1" height="11" fill="#c0c0c0" /><rect x="1199" y="642" width="1" height="6" fill="#c0c0c0" /><rect x="1207" y="644" width="1" height="4" fill="#c0c0c0" /><rect x="1215" y="646" width="1" height="2" fill="#c0c0c0" /><rect x="1223" y="646" width="1" height="2" fill="#c0c0c0" /><rect x="1231" y="641" width="1" height="7" fill="#c0c0c0" /><rect x="1239" y="639" width="1" height="9" fill="#c0c0c0" /><rect x="1247" y="637" width="1" height="11" fill="#c0c0c0" /><rect x="1255" y="637" width="1" height="11" fill="#c0c0c0" /><rect x="1263" y="639" width="1" height="9" fill="#c0c0c0" /><rect x="1271" y="640" width="1" height="8" fill="#c0c0c0" /><rect x="1279" y="638" width="1" height="10" fill="#c0c0c0" /><rect x="1287" y="635" width="1" height="13" fill="#c0c0c0" /><rect x="1295" y="633" width="1" height="15" fill="#c0c0c0" /><rect x="1303" y="633" width="1" height="15" fill="#c0c0c0" /><rect x="1311" y="633" width="1" height="15" fill="#c0c0c0" /><rect x="1319" y="634" width="1" height="14" fill="#c0c0c0" /><rect x="1327" y="635" width="1" height="13" fill="#c0c0c0" /><rect x="1335" y="634" width="1" height="14" fill="#c0c0c0" /><rect x="1343" y="632" width="1" height="16" fill="#c0c0c0" /><rect x="1351" y="631" width="1" height="17" fill="#c0c0c0" /><rect x="1359" y="631" width="1" height="17" fill="#c0c0c0" /></g><polyline points="0.0,679.0 3.2,680.6 10.8,686.0 16.2,690.0 23.4,693.6 30.6,699.0 39.6,704.4 46.8,708.0 54.0,711.6 61.2,714.9 68.4,716.1 75.6,716.3 86.4,716.3 95.4,715.6 104.4,714.5 111.6,713.1 118.8,711.3 126.0,709.5 133.2,708.0 142.2,706.6 147.6,705.5 154.8,702.6 162.0,699.9 169.2,697.2 176.4,695.4 183.6,691.8 190.8,689.1 195.3,686.8 202.0,684.5 208.0,683.4 214.0,680.8 220.7,679.2 227.4,677.4 234.1,676.8 243.4,676.5 256.8,676.5 262.8,678.4 270.1,679.7 275.5,681.4 280.8,683.4 286.2,686.8 292.9,689.4 298.2,691.7 304.9,694.8 310.2,697.5 316.9,698.4 323.6,699.5 330.3,700.4 336.9,700.1 343.6,699.1 350.3,697.9 357.0,694.8 363.7,692.5 370.3,690.1 377.0,687.7 382.4,685.4 389.0,683.7 395.7,682.4 408.0,682.4 413.4,683.4 418.7,684.5 425.4,685.4 430.7,687.4 437.4,689.4 444.1,691.4 449.4,694.1 454.8,696.8 461.4,698.4 466.8,700.5 474.8,701.5 485.5,701.5 490.8,700.8 496.2,700.3 504.2,699.5 513.5,699.2 518.9,698.4 526.9,698.4 532.2,699.2 538.9,700.5 545.6,701.5 551.0,703.5 557.7,704.4 563.0,706.4 569.7,707.2 575.0,709.5 580.3,710.4 587.0,711.5 592.4,712.2 600.4,711.5 610.0,711.2 623.4,711.5 630.0,712.6 635.4,714.4 640.7,716.6 646.1,719.2 652.7,721.5 658.1,723.5 663.4,726.2 670.1,728.2 676.8,729.5 683.5,730.2 690.1,730.2 696.8,729.5 702.2,727.5 706.2,724.2 711.5,720.2 716.9,715.5 723.5,709.5 730.2,702.8 736.9,696.1 742.2,692.1 748.9,687.4 754.3,683.4 759.6,680.1 766.3,676.8 771.6,674.5 778.3,672.5 785.0,671.4 791.7,670.3 797.0,669.4 802.4,668.7 807.7,667.4 813.0,665.0 818.4,662.7 825.3,660.5 832.0,655.8 838.7,651.8 844.0,647.8 850.7,642.4 856.1,637.8 862.7,633.1 868.1,629.1 874.8,624.4 880.1,620.4 886.8,617.3 892.1,615.5 900.1,613.3 905.5,611.7 910.8,610.1 916.2,608.8 921.5,607.4 929.5,606.4 936.2,605.3 940.2,604.4 945.6,603.0 952.2,602.4 958.9,601.3 964.3,600.0 969.6,598.4 976.3,597.3 981.6,595.4 1000.3,595.4 1007.0,596.4 1017.7,596.4 1024.4,597.3 1030.0,598.4 1036.7,599.0 1042.0,600.4 1048.7,601.3 1054.0,603.0 1060.7,604.4 1066.1,605.0 1072.7,606.6 1078.1,609.0 1083.4,610.4 1090.1,612.4 1095.5,614.7 1102.1,617.1 1108.8,619.5 1114.2,621.3 1120.8,623.7 1126.2,626.7 1132.9,629.3 1138.2,631.5 1144.9,632.4 1150.2,634.2 1155.6,635.5 1162.2,636.4 1167.6,637.4 1190.3,637.4 1198.3,638.4 1210.3,638.4 1217.0,639.4 1223.7,639.4 1229.0,640.4 1240.0,640.4 1270.0,640.4 1275.0,639.4 1283.0,638.3 1295.0,637.4 1301.0,636.4 1307.0,636.4 1312.0,635.5 1330.0,635.5 1336.0,634.4 1342.0,633.4 1348.0,632.4 1356.0,632.4" fill="none" stroke="#ff0000" stroke-width="1" stroke-dasharray="3 3" shape-rendering="crispEdges"/><g shape-rendering="crispEdges"><line x1="0" y1="790.5" x2="1600" y2="790.5" stroke="#c0c0c0" stroke-width="1" stroke-dasharray="3 3"/><line x1="0" y1="841.5" x2="1600" y2="841.5" stroke="#c0c0c0" stroke-width="1" stroke-dasharray="3 3"/><line x1="0" y1="902.5" x2="1600" y2="902.5" stroke="#c0c0c0" stroke-width="1" stroke-dasharray="3 3"/></g><polyline points="-1.0,905.3 7.0,902.4 15.0,903.2 23.0,877.4 31.0,877.4 39.0,888.4 47.0,887.1 55.0,883.0 63.0,866.5 71.0,872.3 79.0,866.5 87.0,869.6 95.0,871.6 103.0,875.1 111.0,876.4 119.0,868.1 127.0,869.0 135.0,869.0 143.0,869.0 151.0,856.2 159.0,845.4 167.0,853.3 175.0,851.2 183.0,853.3 191.0,857.2 199.0,859.3 207.0,860.7 215.0,868.1 223.0,864.4 231.0,869.2 239.0,860.3 247.0,866.1 255.0,875.4 263.0,893.3 271.0,875.4 279.0,882.4 287.0,876.4 295.0,877.4 303.0,868.1 311.0,855.7 319.0,851.6 327.0,842.3 335.0,864.0 343.0,843.6 351.0,848.1 359.0,850.2 367.0,848.1 375.0,849.8 383.0,852.3 391.0,860.1 399.0,861.5 407.0,871.9 415.0,867.7 423.0,872.9 431.0,867.7 439.0,865.1 447.0,872.3 455.0,870.2 463.0,852.7 471.0,845.4 479.0,852.9 487.0,851.2 495.0,860.1 503.0,861.5 511.0,867.7 519.0,871.9 527.0,876.0 535.0,876.0 543.0,867.7 551.0,863.6 559.0,865.1 567.0,873.9 575.0,875.4 583.0,860.5 591.0,860.5 599.0,863.2 607.0,867.7 615.0,877.0 623.0,879.5 631.0,891.1 639.0,882.2 647.0,883.2 655.0,884.3 663.0,864.0 671.0,849.6 679.0,853.9 687.0,852.3 695.0,850.2 703.0,838.4 711.0,838.4 719.0,827.5 727.0,846.1 735.0,849.2 743.0,847.3 751.0,847.3 759.0,853.9 767.0,850.2 775.0,852.3 783.0,844.4 791.0,846.1 799.0,841.3 807.0,827.9 815.0,819.2 823.0,822.9 831.0,823.4 839.0,822.3 847.0,816.7 855.0,814.5 863.0,829.1 871.0,821.7 879.0,829.1 887.0,830.2 895.0,825.8 903.0,831.2 911.0,819.2 919.0,813.4 927.0,821.3 935.0,820.7 943.0,824.0 951.0,823.4 959.0,819.6 967.0,812.4 975.0,821.3 983.0,832.0 991.0,828.5 999.0,821.4 1007.0,825.0 1015.0,826.1 1023.0,828.0 1031.0,827.3 1039.0,830.3 1047.0,825.5 1055.0,827.3 1063.0,831.2 1071.0,834.9 1079.0,835.4 1087.0,841.1 1095.0,839.5 1103.0,847.4 1111.0,844.6 1119.0,844.1 1127.0,840.5 1135.0,839.3 1143.0,834.9 1151.0,832.6 1159.0,828.0 1167.0,826.6 1175.0,831.9 1183.0,833.5 1191.0,838.8 1199.0,853.4 1207.0,848.5 1215.0,849.2 1223.0,840.5 1231.0,819.7 1239.0,826.1 1247.0,825.7 1255.0,835.4 1263.0,838.8 1271.0,840.5 1279.0,825.7 1287.0,822.7 1295.0,823.8 1303.0,828.9 1311.0,833.1 1319.0,835.4 1327.0,833.1 1335.0,823.4 1343.0,821.5 1351.0,822.2 1359.0,822.2" fill="none" stroke="#1e90ff" stroke-width="1" shape-rendering="crispEdges"/><g shape-rendering="crispEdges"><rect x="0" y="27" width="1601" height="1" fill="#000" /><rect x="1600" y="27" width="1" height="902" fill="#000" /><rect x="0" y="580" width="1601" height="1" fill="#000" /><rect x="0" y="582" width="1601" height="1" fill="#000" /><rect x="0" y="752" width="1601" height="1" fill="#000" /><rect x="0" y="754" width="1601" height="1" fill="#000" /><rect x="0" y="928" width="1601" height="1" fill="#000" /><rect x="1646" y="25" width="1" height="919" fill="#e3e3e3" /></g><g shape-rendering="crispEdges"><rect x="1601" y="49" width="3" height="1" fill="#000" /><rect x="1601" y="82" width="3" height="1" fill="#000" /><rect x="1601" y="115" width="3" height="1" fill="#000" /><rect x="1601" y="148" width="3" height="1" fill="#000" /><rect x="1601" y="181" width="3" height="1" fill="#000" /><rect x="1601" y="214" width="3" height="1" fill="#000" /><rect x="1601" y="247" width="3" height="1" fill="#000" /><rect x="1601" y="280" width="3" height="1" fill="#000" /><rect x="1601" y="313" width="3" height="1" fill="#000" /><rect x="1601" y="346" width="3" height="1" fill="#000" /><rect x="1601" y="379" width="3" height="1" fill="#000" /><rect x="1601" y="412" width="3" height="1" fill="#000" /><rect x="1601" y="445" width="3" height="1" fill="#000" /><rect x="1601" y="478" width="3" height="1" fill="#000" /><rect x="1601" y="511" width="3" height="1" fill="#000" /><rect x="1601" y="544" width="3" height="1" fill="#000" /><rect x="1601" y="577" width="3" height="1" fill="#000" /></g><text x="1606" y="53" font-family="'Liberation Sans', 'DejaVu Sans', Arial, sans-serif" font-size="10" fill="#000" text-anchor="start" font-weight="normal" textLength="33.5" lengthAdjust="spacingAndGlyphs" >140.550</text><text x="1606" y="86" font-family="'Liberation Sans', 'DejaVu Sans', Arial, sans-serif" font-size="10" fill="#000" text-anchor="start" font-weight="normal" textLength="33.5" lengthAdjust="spacingAndGlyphs" >139.500</text><text x="1606" y="119" font-family="'Liberation Sans', 'DejaVu Sans', Arial, sans-serif" font-size="10" fill="#000" text-anchor="start" font-weight="normal" textLength="33.5" lengthAdjust="spacingAndGlyphs" >138.450</text><text x="1606" y="152" font-family="'Liberation Sans', 'DejaVu Sans', Arial, sans-serif" font-size="10" fill="#000" text-anchor="start" font-weight="normal" textLength="33.5" lengthAdjust="spacingAndGlyphs" >137.400</text><text x="1606" y="185" font-family="'Liberation Sans', 'DejaVu Sans', Arial, sans-serif" font-size="10" fill="#000" text-anchor="start" font-weight="normal" textLength="33.5" lengthAdjust="spacingAndGlyphs" >136.335</text><text x="1606" y="218" font-family="'Liberation Sans', 'DejaVu Sans', Arial, sans-serif" font-size="10" fill="#000" text-anchor="start" font-weight="normal" textLength="33.5" lengthAdjust="spacingAndGlyphs" >135.270</text><text x="1606" y="251" font-family="'Liberation Sans', 'DejaVu Sans', Arial, sans-serif" font-size="10" fill="#000" text-anchor="start" font-weight="normal" textLength="33.5" lengthAdjust="spacingAndGlyphs" >134.220</text><text x="1606" y="284" font-family="'Liberation Sans', 'DejaVu Sans', Arial, sans-serif" font-size="10" fill="#000" text-anchor="start" font-weight="normal" textLength="33.5" lengthAdjust="spacingAndGlyphs" >133.170</text><text x="1606" y="317" font-family="'Liberation Sans', 'DejaVu Sans', Arial, sans-serif" font-size="10" fill="#000" text-anchor="start" font-weight="normal" textLength="33.5" lengthAdjust="spacingAndGlyphs" >132.120</text><text x="1606" y="350" font-family="'Liberation Sans', 'DejaVu Sans', Arial, sans-serif" font-size="10" fill="#000" text-anchor="start" font-weight="normal" textLength="33.5" lengthAdjust="spacingAndGlyphs" >131.070</text><text x="1606" y="383" font-family="'Liberation Sans', 'DejaVu Sans', Arial, sans-serif" font-size="10" fill="#000" text-anchor="start" font-weight="normal" textLength="33.5" lengthAdjust="spacingAndGlyphs" >130.020</text><text x="1606" y="416" font-family="'Liberation Sans', 'DejaVu Sans', Arial, sans-serif" font-size="10" fill="#000" text-anchor="start" font-weight="normal" textLength="33.5" lengthAdjust="spacingAndGlyphs" >128.970</text><text x="1606" y="449" font-family="'Liberation Sans', 'DejaVu Sans', Arial, sans-serif" font-size="10" fill="#000" text-anchor="start" font-weight="normal" textLength="33.5" lengthAdjust="spacingAndGlyphs" >127.920</text><text x="1606" y="482" font-family="'Liberation Sans', 'DejaVu Sans', Arial, sans-serif" font-size="10" fill="#000" text-anchor="start" font-weight="normal" textLength="33.5" lengthAdjust="spacingAndGlyphs" >126.870</text><text x="1606" y="515" font-family="'Liberation Sans', 'DejaVu Sans', Arial, sans-serif" font-size="10" fill="#000" text-anchor="start" font-weight="normal" textLength="33.5" lengthAdjust="spacingAndGlyphs" >125.820</text><text x="1606" y="548" font-family="'Liberation Sans', 'DejaVu Sans', Arial, sans-serif" font-size="10" fill="#000" text-anchor="start" font-weight="normal" textLength="33.5" lengthAdjust="spacingAndGlyphs" >124.770</text><text x="1606" y="581" font-family="'Liberation Sans', 'DejaVu Sans', Arial, sans-serif" font-size="10" fill="#000" text-anchor="start" font-weight="normal" textLength="33.5" lengthAdjust="spacingAndGlyphs" >123.720</text><rect x="1602" y="179" width="41" height="11" fill="#ff0000" shape-rendering="crispEdges"/><text x="1606" y="188" font-family="'Liberation Sans', 'DejaVu Sans', Arial, sans-serif" font-size="10" fill="#fff" text-anchor="start" font-weight="normal" textLength="33.5" lengthAdjust="spacingAndGlyphs" >136.194</text><rect x="1602" y="201" width="41" height="11" fill="#ff0000" shape-rendering="crispEdges"/><text x="1606" y="210" font-family="'Liberation Sans', 'DejaVu Sans', Arial, sans-serif" font-size="10" fill="#fff" text-anchor="start" font-weight="normal" textLength="33.5" lengthAdjust="spacingAndGlyphs" >135.502</text><rect x="1602" y="228" width="41" height="11" fill="#000000" shape-rendering="crispEdges"/><text x="1606" y="237" font-family="'Liberation Sans', 'DejaVu Sans', Arial, sans-serif" font-size="10" fill="#fff" text-anchor="start" font-weight="normal" textLength="33.5" lengthAdjust="spacingAndGlyphs" >134.665</text><rect x="1602" y="245" width="41" height="11" fill="#32cd32" shape-rendering="crispEdges"/><text x="1606" y="254" font-family="'Liberation Sans', 'DejaVu Sans', Arial, sans-serif" font-size="10" fill="#fff" text-anchor="start" font-weight="normal" textLength="33.5" lengthAdjust="spacingAndGlyphs" >134.102</text><rect x="1602" y="270" width="41" height="11" fill="#0000ff" shape-rendering="crispEdges"/><text x="1606" y="279" font-family="'Liberation Sans', 'DejaVu Sans', Arial, sans-serif" font-size="10" fill="#fff" text-anchor="start" font-weight="normal" textLength="33.5" lengthAdjust="spacingAndGlyphs" >133.306</text><rect x="1602" y="294" width="41" height="11" fill="#0000ff" shape-rendering="crispEdges"/><text x="1606" y="303" font-family="'Liberation Sans', 'DejaVu Sans', Arial, sans-serif" font-size="10" fill="#fff" text-anchor="start" font-weight="normal" textLength="33.5" lengthAdjust="spacingAndGlyphs" >132.542</text><g shape-rendering="crispEdges"><rect x="1601" y="583" width="3" height="1" fill="#000" /><rect x="1601" y="647" width="3" height="1" fill="#000" /><rect x="1601" y="751" width="3" height="1" fill="#000" /><rect x="1601" y="755" width="3" height="1" fill="#000" /><rect x="1601" y="790" width="3" height="1" fill="#000" /><rect x="1601" y="841" width="3" height="1" fill="#000" /><rect x="1601" y="902" width="3" height="1" fill="#000" /><rect x="1601" y="927" width="3" height="1" fill="#000" /></g><text x="1604" y="593" font-family="'Liberation Sans', 'DejaVu Sans', Arial, sans-serif" font-size="10" fill="#000" text-anchor="start" font-weight="normal" textLength="28" lengthAdjust="spacingAndGlyphs" >1.2293</text><text x="1604" y="651" font-family="'Liberation Sans', 'DejaVu Sans', Arial, sans-serif" font-size="10" fill="#000" text-anchor="start" font-weight="normal" textLength="18" lengthAdjust="spacingAndGlyphs" >0.00</text><text x="1604" y="749" font-family="'Liberation Sans', 'DejaVu Sans', Arial, sans-serif" font-size="10" fill="#000" text-anchor="start" font-weight="normal" textLength="32" lengthAdjust="spacingAndGlyphs" >-2.0003</text><text x="1604" y="765" font-family="'Liberation Sans', 'DejaVu Sans', Arial, sans-serif" font-size="10" fill="#000" text-anchor="start" font-weight="normal" textLength="14" lengthAdjust="spacingAndGlyphs" >100</text><text x="1604" y="794" font-family="'Liberation Sans', 'DejaVu Sans', Arial, sans-serif" font-size="10" fill="#000" text-anchor="start" font-weight="normal" textLength="10" lengthAdjust="spacingAndGlyphs" >80</text><text x="1604" y="845" font-family="'Liberation Sans', 'DejaVu Sans', Arial, sans-serif" font-size="10" fill="#000" text-anchor="start" font-weight="normal" textLength="10" lengthAdjust="spacingAndGlyphs" >50</text><text x="1604" y="906" font-family="'Liberation Sans', 'DejaVu Sans', Arial, sans-serif" font-size="10" fill="#000" text-anchor="start" font-weight="normal" textLength="10" lengthAdjust="spacingAndGlyphs" >15</text><text x="1604" y="925" font-family="'Liberation Sans', 'DejaVu Sans', Arial, sans-serif" font-size="10" fill="#000" text-anchor="start" font-weight="normal" textLength="5" lengthAdjust="spacingAndGlyphs" >0</text><text x="-4" y="595" font-family="'Liberation Sans', 'DejaVu Sans', Arial, sans-serif" font-size="10" fill="#000" text-anchor="start" font-weight="normal" textLength="127" lengthAdjust="spacingAndGlyphs" >MACD(12,26,9) 0.3383 0.2969</text><text x="-5.5" y="767" font-family="'Liberation Sans', 'DejaVu Sans', Arial, sans-serif" font-size="10" fill="#000" text-anchor="start" font-weight="normal" textLength="68.5" lengthAdjust="spacingAndGlyphs" >RSI(14) 61.3533</text><g shape-rendering="crispEdges"><rect x="55" y="929" width="1" height="3" fill="#000" /><rect x="119" y="929" width="1" height="3" fill="#000" /><rect x="183" y="929" width="1" height="3" fill="#000" /><rect x="247" y="929" width="1" height="3" fill="#000" /><rect x="311" y="929" width="1" height="3" fill="#000" /><rect x="375" y="929" width="1" height="3" fill="#000" /><rect x="439" y="929" width="1" height="3" fill="#000" /><rect x="503" y="929" width="1" height="3" fill="#000" /><rect x="567" y="929" width="1" height="3" fill="#000" /><rect x="631" y="929" width="1" height="3" fill="#000" /><rect x="695" y="929" width="1" height="3" fill="#000" /><rect x="759" y="929" width="1" height="3" fill="#000" /><rect x="823" y="929" width="1" height="3" fill="#000" /><rect x="887" y="929" width="1" height="3" fill="#000" /><rect x="951" y="929" width="1" height="3" fill="#000" /><rect x="1015" y="929" width="1" height="3" fill="#000" /><rect x="1079" y="929" width="1" height="3" fill="#000" /><rect x="1143" y="929" width="1" height="3" fill="#000" /><rect x="1207" y="929" width="1" height="3" fill="#000" /><rect x="1271" y="929" width="1" height="3" fill="#000" /><rect x="1335" y="929" width="1" height="3" fill="#000" /></g><text x="54" y="941" font-family="'Liberation Sans', 'DejaVu Sans', Arial, sans-serif" font-size="10" fill="#000" text-anchor="start" font-weight="normal" textLength="49.7" lengthAdjust="spacingAndGlyphs" >2 Mar 16:00</text><text x="118" y="941" font-family="'Liberation Sans', 'DejaVu Sans', Arial, sans-serif" font-size="10" fill="#000" text-anchor="start" font-weight="normal" textLength="49.7" lengthAdjust="spacingAndGlyphs" >4 Mar 00:00</text><text x="182" y="941" font-family="'Liberation Sans', 'DejaVu Sans', Arial, sans-serif" font-size="10" fill="#000" text-anchor="start" font-weight="normal" textLength="49.7" lengthAdjust="spacingAndGlyphs" >5 Mar 08:00</text><text x="246" y="941" font-family="'Liberation Sans', 'DejaVu Sans', Arial, sans-serif" font-size="10" fill="#000" text-anchor="start" font-weight="normal" textLength="49.7" lengthAdjust="spacingAndGlyphs" >6 Mar 16:00</text><text x="310" y="941" font-family="'Liberation Sans', 'DejaVu Sans', Arial, sans-serif" font-size="10" fill="#000" text-anchor="start" font-weight="normal" textLength="54.8" lengthAdjust="spacingAndGlyphs" >10 Mar 00:00</text><text x="374" y="941" font-family="'Liberation Sans', 'DejaVu Sans', Arial, sans-serif" font-size="10" fill="#000" text-anchor="start" font-weight="normal" textLength="54.8" lengthAdjust="spacingAndGlyphs" >11 Mar 08:00</text><text x="438" y="941" font-family="'Liberation Sans', 'DejaVu Sans', Arial, sans-serif" font-size="10" fill="#000" text-anchor="start" font-weight="normal" textLength="54.8" lengthAdjust="spacingAndGlyphs" >12 Mar 16:00</text><text x="502" y="941" font-family="'Liberation Sans', 'DejaVu Sans', Arial, sans-serif" font-size="10" fill="#000" text-anchor="start" font-weight="normal" textLength="54.8" lengthAdjust="spacingAndGlyphs" >16 Mar 00:00</text><text x="566" y="941" font-family="'Liberation Sans', 'DejaVu Sans', Arial, sans-serif" font-size="10" fill="#000" text-anchor="start" font-weight="normal" textLength="54.8" lengthAdjust="spacingAndGlyphs" >17 Mar 08:00</text><text x="630" y="941" font-family="'Liberation Sans', 'DejaVu Sans', Arial, sans-serif" font-size="10" fill="#000" text-anchor="start" font-weight="normal" textLength="54.8" lengthAdjust="spacingAndGlyphs" >18 Mar 16:00</text><text x="694" y="941" font-family="'Liberation Sans', 'DejaVu Sans', Arial, sans-serif" font-size="10" fill="#000" text-anchor="start" font-weight="normal" textLength="54.8" lengthAdjust="spacingAndGlyphs" >20 Mar 00:00</text><text x="758" y="941" font-family="'Liberation Sans', 'DejaVu Sans', Arial, sans-serif" font-size="10" fill="#000" text-anchor="start" font-weight="normal" textLength="54.8" lengthAdjust="spacingAndGlyphs" >23 Mar 08:00</text><text x="822" y="941" font-family="'Liberation Sans', 'DejaVu Sans', Arial, sans-serif" font-size="10" fill="#000" text-anchor="start" font-weight="normal" textLength="54.8" lengthAdjust="spacingAndGlyphs" >24 Mar 16:00</text><text x="886" y="941" font-family="'Liberation Sans', 'DejaVu Sans', Arial, sans-serif" font-size="10" fill="#000" text-anchor="start" font-weight="normal" textLength="54.8" lengthAdjust="spacingAndGlyphs" >26 Mar 00:00</text><text x="950" y="941" font-family="'Liberation Sans', 'DejaVu Sans', Arial, sans-serif" font-size="10" fill="#000" text-anchor="start" font-weight="normal" textLength="54.8" lengthAdjust="spacingAndGlyphs" >27 Mar 08:00</text><text x="1014" y="941" font-family="'Liberation Sans', 'DejaVu Sans', Arial, sans-serif" font-size="10" fill="#000" text-anchor="start" font-weight="normal" textLength="54.8" lengthAdjust="spacingAndGlyphs" >30 Mar 16:00</text><text x="1078" y="941" font-family="'Liberation Sans', 'DejaVu Sans', Arial, sans-serif" font-size="10" fill="#000" text-anchor="start" font-weight="normal" textLength="48.8" lengthAdjust="spacingAndGlyphs" >1 Apr 00:00</text><text x="1142" y="941" font-family="'Liberation Sans', 'DejaVu Sans', Arial, sans-serif" font-size="10" fill="#000" text-anchor="start" font-weight="normal" textLength="48.8" lengthAdjust="spacingAndGlyphs" >2 Apr 08:00</text><text x="1206" y="941" font-family="'Liberation Sans', 'DejaVu Sans', Arial, sans-serif" font-size="10" fill="#000" text-anchor="start" font-weight="normal" textLength="48.8" lengthAdjust="spacingAndGlyphs" >3 Apr 16:00</text><text x="1270" y="941" font-family="'Liberation Sans', 'DejaVu Sans', Arial, sans-serif" font-size="10" fill="#000" text-anchor="start" font-weight="normal" textLength="48.8" lengthAdjust="spacingAndGlyphs" >7 Apr 00:00</text><text x="1334" y="941" font-family="'Liberation Sans', 'DejaVu Sans', Arial, sans-serif" font-size="10" fill="#000" text-anchor="start" font-weight="normal" textLength="48.8" lengthAdjust="spacingAndGlyphs" >8 Apr 08:00</text><text x="4" y="941" font-family="'Liberation Sans', 'DejaVu Sans', Arial, sans-serif" font-size="10" fill="#000" text-anchor="start" font-weight="normal" textLength="38.9" lengthAdjust="spacingAndGlyphs" >Feb 2020</text><text x="6" y="39" font-family="'Liberation Sans', 'DejaVu Sans', Arial, sans-serif" font-size="10" fill="#000" text-anchor="start" font-weight="normal" textLength="200" lengthAdjust="spacingAndGlyphs" xml:space="preserve">GBPJPY-,H4  134.679 134.795 134.658 134.665</text><rect x="0" y="36" width="2" height="1" fill="#000" /><g shape-rendering="crispEdges"><rect x="0" y="45" width="214" height="68" fill="#ffffff" /><path d="M0 47 H46 V71 H103 V111 H0 Z" fill="url(#gPanel)"/><rect x="0" y="47" width="46" height="1" fill="#0000a0" /><rect x="45" y="47" width="1" height="25" fill="#0000a0" /><rect x="45" y="71" width="58" height="1" fill="#0000a0" /><rect x="102" y="71" width="1" height="40" fill="#0000a0" /><rect x="0" y="110" width="103" height="1" fill="#0000a0" /><rect x="0" y="70" width="42" height="1" fill="#00007c" /><rect x="0" y="71" width="42" height="1" fill="#7878ff" /><path d="M161 47 H213 V111 H105 V71 H161 Z" fill="url(#gPanel)"/><rect x="161" y="47" width="52" height="1" fill="#0000a0" /><rect x="161" y="47" width="1" height="25" fill="#0000a0" /><rect x="105" y="71" width="57" height="1" fill="#0000a0" /><rect x="105" y="71" width="1" height="40" fill="#0000a0" /><rect x="212" y="47" width="1" height="64" fill="#0000a0" /><rect x="105" y="110" width="108" height="1" fill="#0000a0" /><rect x="165" y="70" width="44" height="1" fill="#00007c" /><rect x="165" y="71" width="44" height="1" fill="#7878ff" /><rect x="46" y="47" width="115" height="24" fill="#ffffff" /><rect x="48.5" y="47.5" width="111" height="21" fill="#fff" stroke="#b4b4b4" stroke-width="1"/><rect x="49" y="48" width="20" height="20" fill="url(#gBtn)" /><rect x="138" y="48" width="21" height="20" fill="url(#gBtn)" /><rect x="49.5" y="48.5" width="19" height="19" fill="none" stroke="#c8c8c8" stroke-width="1"/><rect x="138.5" y="48.5" width="20" height="19" fill="none" stroke="#c8c8c8" stroke-width="1"/><rect x="69" y="48" width="1" height="20" fill="#a8a8a8" /><rect x="137" y="48" width="1" height="20" fill="#a8a8a8" /></g><polygon points="56,56 62,56 59,59.5" fill="#4d66c4"/><polygon points="145.5,59 151.5,59 148.5,55.5" fill="#4d66c4"/><text x="134.2" y="61.5" font-family="'Liberation Sans', 'DejaVu Sans', Arial, sans-serif" font-size="12" fill="#000" text-anchor="end" font-weight="normal" textLength="24.5" lengthAdjust="spacingAndGlyphs" >1.00</text><text x="6.5" y="63" font-family="'Liberation Sans', 'DejaVu Sans', Arial, sans-serif" font-size="12" fill="#fff" text-anchor="start" font-weight="normal" textLength="25.5" lengthAdjust="spacingAndGlyphs" >SELL</text><text x="174.5" y="63" font-family="'Liberation Sans', 'DejaVu Sans', Arial, sans-serif" font-size="12" fill="#fff" text-anchor="start" font-weight="normal" textLength="23.5" lengthAdjust="spacingAndGlyphs" >BUY</text><text x="17.5" y="102" font-family="'Liberation Sans', 'DejaVu Sans', Arial, sans-serif" font-size="12" fill="#fff" text-anchor="start" font-weight="bold" textLength="20" lengthAdjust="spacingAndGlyphs" >134</text><text x="41.5" y="102" font-family="'Liberation Sans', 'DejaVu Sans', Arial, sans-serif" font-size="35" fill="#fff" text-anchor="start" font-weight="normal" textLength="35.5" lengthAdjust="spacingAndGlyphs" >66</text><text x="81.5" y="84.8" font-family="'Liberation Sans', 'DejaVu Sans', Arial, sans-serif" font-size="11" fill="#fff" text-anchor="start" font-weight="bold" textLength="6" lengthAdjust="spacingAndGlyphs" >5</text><text x="127.5" y="102" font-family="'Liberation Sans', 'DejaVu Sans', Arial, sans-serif" font-size="12" fill="#fff" text-anchor="start" font-weight="bold" textLength="20" lengthAdjust="spacingAndGlyphs" >134</text><text x="153" y="102" font-family="'Liberation Sans', 'DejaVu Sans', Arial, sans-serif" font-size="35" fill="#fff" text-anchor="start" font-weight="normal" textLength="35" lengthAdjust="spacingAndGlyphs" >89</text><text x="192.5" y="84.8" font-family="'Liberation Sans', 'DejaVu Sans', Arial, sans-serif" font-size="11" fill="#fff" text-anchor="start" font-weight="bold" textLength="6" lengthAdjust="spacingAndGlyphs" >3</text><g><rect x="0" y="0" width="1647" height="22" fill="#f0f0f0" /><rect x="0" y="22" width="1647" height="1" fill="#f5f5f5" shape-rendering="crispEdges"/><rect x="0" y="23" width="1647" height="1" fill="#a3a3a3" shape-rendering="crispEdges"/><rect x="0" y="24" width="1647" height="1" fill="#676767" shape-rendering="crispEdges"/><rect x="0" y="25" width="1647" height="2" fill="#ffffff" /><text x="-9.5" y="15" font-family="'Liberation Sans', 'Noto Sans CJK SC', 'WenQuanYi Zen Hei', sans-serif" font-size="12" fill="#000" text-anchor="start" font-weight="normal" textLength="36" lengthAdjust="spacingAndGlyphs" >新订单</text><text x="142.5" y="15" font-family="'Liberation Sans', 'Noto Sans CJK SC', 'WenQuanYi Zen Hei', sans-serif" font-size="12" fill="#000" text-anchor="start" font-weight="normal" textLength="46.5" lengthAdjust="spacingAndGlyphs" >自动交易</text><rect x="197" y="1" width="1" height="20" fill="#a0a0a0" shape-rendering="crispEdges"/><rect x="198" y="1" width="1" height="20" fill="#ffffff" shape-rendering="crispEdges"/><rect x="201" y="1" width="3" height="1" fill="#9a9a9a" shape-rendering="crispEdges"/><rect x="201" y="3" width="3" height="1" fill="#9a9a9a" shape-rendering="crispEdges"/><rect x="201" y="5" width="3" height="1" fill="#9a9a9a" shape-rendering="crispEdges"/><rect x="201" y="7" width="3" height="1" fill="#9a9a9a" shape-rendering="crispEdges"/><rect x="201" y="9" width="3" height="1" fill="#9a9a9a" shape-rendering="crispEdges"/><rect x="201" y="11" width="3" height="1" fill="#9a9a9a" shape-rendering="crispEdges"/><rect x="201" y="13" width="3" height="1" fill="#9a9a9a" shape-rendering="crispEdges"/><rect x="201" y="15" width="3" height="1" fill="#9a9a9a" shape-rendering="crispEdges"/><rect x="201" y="17" width="3" height="1" fill="#9a9a9a" shape-rendering="crispEdges"/><rect x="201" y="19" width="3" height="1" fill="#9a9a9a" shape-rendering="crispEdges"/><rect x="235" y="1" width="1" height="20" fill="#a0a0a0" shape-rendering="crispEdges"/><rect x="236" y="1" width="1" height="20" fill="#ffffff" shape-rendering="crispEdges"/><rect x="236" y="1" width="24" height="20" fill="url(#chk)" shape-rendering="crispEdges"/><rect x="292" y="1" width="1" height="20" fill="#a0a0a0" shape-rendering="crispEdges"/><rect x="293" y="1" width="1" height="20" fill="#ffffff" shape-rendering="crispEdges"/><rect x="382" y="1" width="1" height="20" fill="#a0a0a0" shape-rendering="crispEdges"/><rect x="383" y="1" width="1" height="20" fill="#ffffff" shape-rendering="crispEdges"/><rect x="386" y="1" width="1" height="20" fill="#a0a0a0" shape-rendering="crispEdges"/><rect x="387" y="1" width="1" height="20" fill="#ffffff" shape-rendering="crispEdges"/><rect x="388" y="1" width="24" height="20" fill="url(#chk)" shape-rendering="crispEdges"/><rect x="415" y="1" width="1" height="20" fill="#a0a0a0" shape-rendering="crispEdges"/><rect x="416" y="1" width="1" height="20" fill="#ffffff" shape-rendering="crispEdges"/><rect x="416" y="1" width="24" height="20" fill="url(#chk)" shape-rendering="crispEdges"/><rect x="443" y="1" width="1" height="20" fill="#a0a0a0" shape-rendering="crispEdges"/><rect x="444" y="1" width="1" height="20" fill="#ffffff" shape-rendering="crispEdges"/><rect x="565" y="1" width="1" height="20" fill="#a0a0a0" shape-rendering="crispEdges"/><rect x="566" y="1" width="1" height="20" fill="#ffffff" shape-rendering="crispEdges"/><rect x="569" y="1" width="3" height="1" fill="#9a9a9a" shape-rendering="crispEdges"/><rect x="569" y="3" width="3" height="1" fill="#9a9a9a" shape-rendering="crispEdges"/><rect x="569" y="5" width="3" height="1" fill="#9a9a9a" shape-rendering="crispEdges"/><rect x="569" y="7" width="3" height="1" fill="#9a9a9a" shape-rendering="crispEdges"/><rect x="569" y="9" width="3" height="1" fill="#9a9a9a" shape-rendering="crispEdges"/><rect x="569" y="11" width="3" height="1" fill="#9a9a9a" shape-rendering="crispEdges"/><rect x="569" y="13" width="3" height="1" fill="#9a9a9a" shape-rendering="crispEdges"/><rect x="569" y="15" width="3" height="1" fill="#9a9a9a" shape-rendering="crispEdges"/><rect x="569" y="17" width="3" height="1" fill="#9a9a9a" shape-rendering="crispEdges"/><rect x="569" y="19" width="3" height="1" fill="#9a9a9a" shape-rendering="crispEdges"/><rect x="575" y="1" width="1" height="20" fill="#a0a0a0" shape-rendering="crispEdges"/><rect x="576" y="1" width="1" height="20" fill="#ffffff" shape-rendering="crispEdges"/><rect x="576" y="1" width="24" height="20" fill="url(#chk)" shape-rendering="crispEdges"/><rect x="632" y="1" width="1" height="20" fill="#a0a0a0" shape-rendering="crispEdges"/><rect x="633" y="1" width="1" height="20" fill="#ffffff" shape-rendering="crispEdges"/><rect x="871" y="1" width="1" height="20" fill="#a0a0a0" shape-rendering="crispEdges"/><rect x="872" y="1" width="1" height="20" fill="#ffffff" shape-rendering="crispEdges"/><rect x="874" y="1" width="3" height="1" fill="#9a9a9a" shape-rendering="crispEdges"/><rect x="874" y="3" width="3" height="1" fill="#9a9a9a" shape-rendering="crispEdges"/><rect x="874" y="5" width="3" height="1" fill="#9a9a9a" shape-rendering="crispEdges"/><rect x="874" y="7" width="3" height="1" fill="#9a9a9a" shape-rendering="crispEdges"/><rect x="874" y="9" width="3" height="1" fill="#9a9a9a" shape-rendering="crispEdges"/><rect x="874" y="11" width="3" height="1" fill="#9a9a9a" shape-rendering="crispEdges"/><rect x="874" y="13" width="3" height="1" fill="#9a9a9a" shape-rendering="crispEdges"/><rect x="874" y="15" width="3" height="1" fill="#9a9a9a" shape-rendering="crispEdges"/><rect x="874" y="17" width="3" height="1" fill="#9a9a9a" shape-rendering="crispEdges"/><rect x="874" y="19" width="3" height="1" fill="#9a9a9a" shape-rendering="crispEdges"/><rect x="1021" y="1" width="25" height="20" fill="url(#chk)" shape-rendering="crispEdges"/><rect x="1021" y="1" width="1" height="20" fill="#b0b0b0" /><rect x="1132" y="1" width="1" height="20" fill="#a0a0a0" shape-rendering="crispEdges"/><rect x="1133" y="1" width="1" height="20" fill="#ffffff" shape-rendering="crispEdges"/><polygon points="47.5,17.5 52.5,9.5 54,12 48.5,19" fill="#c8922a" stroke="#a06010" stroke-width="0.8"/><polygon points="38.5,12.5 44,4.3 52.5,9.5 47.5,17.5" fill="url(#gGold)" stroke="#a86a10" stroke-width="0.9"/><path d="M40.5 13.3 L45 6.5" stroke="#fff1a0" stroke-width="1" fill="none"/><path d="M68.5 4.5 L71 3 L80.5 3 L80.5 13 L68.5 13 Z" fill="#1e8cf0" stroke="#1060c8" stroke-width="0.9"/><path d="M71 3 L71 13" stroke="#7cc4ff" stroke-width="1"/><rect x="73" y="6.5" width="6" height="1.6" fill="#e8f4ff"/><rect x="73" y="9.5" width="6" height="1.2" fill="#bfe0ff"/><path d="M67 17.5 Q66 14.5 69 14 Q70 11 73.5 12 Q76 10 78.5 12.5 Q82 12.5 81.5 16 Q82 18.5 79 18.5 L69 18.5 Q67 18.5 67 17.5 Z" fill="url(#gCloud)" stroke="#6f86b8" stroke-width="0.9"/><circle cx="102" cy="11" r="7.5" fill="none" stroke="#4a78d8" stroke-width="1" opacity="0.5"/><circle cx="102" cy="11" r="5" fill="none" stroke="#4a78d8" stroke-width="1" opacity="0.7"/><circle cx="102" cy="11" r="2.6" fill="none" stroke="#4a78d8" stroke-width="1" opacity="0.9"/><path d="M102 11 L102 18" stroke="#2aa02a" stroke-width="1.6"/><path d="M102 18 A7.5 7.5 0 0 0 109 9" stroke="#3aaa3a" stroke-width="1.2" fill="none"/><circle cx="102" cy="10.5" r="1.3" fill="#2060c0"/><ellipse cx="129" cy="7.5" rx="7.5" ry="3" fill="#5db3e8" stroke="#2e86c8"/><ellipse cx="129" cy="5.5" rx="4" ry="3" fill="#7cc6f0" stroke="#2e86c8"/><polygon points="122.5,11 135,11 130,18" fill="#f6d84a" stroke="#c8a020"/><circle cx="133" cy="14.5" r="4" fill="#e02010" stroke="#b01000"/><rect x="131.5" y="13" width="3" height="3" fill="#fff"/><path d="M215.5 5 L215.5 19 M213 16.5 L227 16.5" stroke="#5a5a5a" stroke-width="1.1" fill="none"/><polygon points="214,7 215.5,4.5 217,7" fill="#5a5a5a"/><polygon points="225,15 227.5,16.5 225,18" fill="#5a5a5a"/><path d="M221.5 6 L221.5 14.5 M219 13.5 L221.5 13.5 M221.5 7.5 L224 7.5" stroke="#119911" stroke-width="1.3" fill="none"/><path d="M243.5 5 L243.5 19 M241 16.5 L255 16.5" stroke="#5a5a5a" stroke-width="1.1" fill="none"/><polygon points="242,7 243.5,4.5 245,7" fill="#5a5a5a"/><polygon points="253,15 255.5,16.5 253,18" fill="#5a5a5a"/><path d="M249.5 3 L249.5 14.5" stroke="#119911" stroke-width="1"/><rect x="247.5" y="5.5" width="4.5" height="7" fill="#5be35b" stroke="#119911"/><path d="M271.5 5 L271.5 19 M269 16.5 L283 16.5" stroke="#5a5a5a" stroke-width="1.1" fill="none"/><polygon points="270,7 271.5,4.5 273,7" fill="#5a5a5a"/><polygon points="281,15 283.5,16.5 281,18" fill="#5a5a5a"/><path d="M270.5 13.5 Q275.5 5 277 8 Q279 10.5 282 12" stroke="#2aa02a" stroke-width="1.1" fill="none"/><line x1="310.5" y1="12.5" x2="316" y2="18" stroke="#d0b030" stroke-width="2.6"/><circle cx="307" cy="8.7" r="5.2" fill="#dcefff" stroke="#3a78c8" stroke-width="1.2"/><path d="M304 8.7 L310 8.7" stroke="#3a78c8" stroke-width="1.8"/><path d="M307 5.7 L307 11.7" stroke="#3a78c8" stroke-width="1.8"/><line x1="338.5" y1="12.5" x2="344" y2="18" stroke="#d0b030" stroke-width="2.6"/><circle cx="335" cy="8.7" r="5.2" fill="#dcefff" stroke="#3a78c8" stroke-width="1.2"/><path d="M332 8.7 L338 8.7" stroke="#3a78c8" stroke-width="1.8"/><rect x="357" y="3" width="8" height="8" fill="#2ea02e"/><rect x="358.5" y="6" width="5" height="3" fill="#ffffff" opacity="0.85"/><rect x="365" y="3" width="8" height="8" fill="#2050d0"/><rect x="366.5" y="6" width="5" height="3" fill="#ffffff" opacity="0.85"/><rect x="357" y="11" width="8" height="8" fill="#2050d0"/><rect x="358.5" y="14" width="5" height="3" fill="#ffffff" opacity="0.85"/><rect x="365" y="11" width="8" height="8" fill="#2ea02e"/><rect x="366.5" y="14" width="5" height="3" fill="#ffffff" opacity="0.85"/><path d="M395.5 5 L395.5 19 M393 16.5 L407 16.5" stroke="#5a5a5a" stroke-width="1.1" fill="none"/><polygon points="394,7 395.5,4.5 397,7" fill="#5a5a5a"/><polygon points="405,15 407.5,16.5 405,18" fill="#5a5a5a"/><polygon points="400,7.5 404,10.5 400,13.5" fill="#2ab02a" stroke="#109010" stroke-width="0.6"/><path d="M423.5 5 L423.5 19 M421 16.5 L435 16.5" stroke="#5a5a5a" stroke-width="1.1" fill="none"/><polygon points="422,7 423.5,4.5 425,7" fill="#5a5a5a"/><polygon points="433,15 435.5,16.5 433,18" fill="#5a5a5a"/><path d="M429.5 5 L429.5 14.5" stroke="#2060b0" stroke-width="1.2"/><polygon points="430.5,10.5 434,8.5 434,12.5" fill="#e04010"/><path d="M432 10.5 L436 10.5" stroke="#e04010" stroke-width="1.2"/><path d="M454.5 3.5 L462 3.5 L465.5 7 L465.5 16.5 L454.5 16.5 Z" fill="#fafafa" stroke="#808080"/><path d="M457.5 6 Q456.5 6 456.5 8 L456.5 13" stroke="#604020" fill="none"/><path d="M461 10 L467 10 L467 13 L470 13 L470 16.5 L467 16.5 L467 20 L461 20 L461 16.5 L458 16.5 L458 13 L461 13 Z" transform="translate(0.5,0) " fill="#3ed03e" stroke="#159015"/><polygon points="476,10 481,10 478.5,13" fill="#000"/><polygon points="515,10 520,10 517.5,13" fill="#000"/><polygon points="554,10 559,10 556.5,13" fill="#000"/><circle cx="500" cy="11" r="7.3" fill="#2070d0" stroke="#1050a0"/><circle cx="500" cy="11" r="5" fill="#ffffff"/><path d="M499.5 7.5 L499.5 11.5 L502.5 11.5" stroke="#333" stroke-width="1.2" fill="none"/><rect x="531.5" y="4.5" width="15" height="13" fill="#ffffff" stroke="#3a78c8"/><rect x="532" y="5" width="14" height="2" fill="#5a90d8" /><path d="M533 10 L536 9 L539 10 L542 8.5 L545 9" stroke="#a02010" fill="none"/><rect x="532" y="12" width="14" height="1" fill="#3a78c8" /><path d="M533 15.5 L536 14.5 L539 15.5 L542 13 L545 15" stroke="#20a020" fill="none"/><polygon points="583.3,3.9 591.3,11.6 588,11.8 590,17 588.6,17.7 586.5,12.8 583.3,15.5" fill="#444"/><path d="M608 11.5 L614 11.5 M617 11.5 L623 11.5 M615.5 4 L615.5 10 M615.5 13 L615.5 19" stroke="#444" stroke-width="1.1"/><path d="M649.5 5 L649.5 18" stroke="#444" stroke-width="1.1"/><path d="M672 11.5 L684 11.5" stroke="#444" stroke-width="1.1"/><path d="M700 18 L712 5.7" stroke="#444" stroke-width="1.1"/><path d="M726 15 L737 4 M727.5 17.5 L738.5 6.5 M728 10 L735 10 M730 6 L730 16 M733 5 L733 15" stroke="#555" stroke-width="0.9" fill="none"/><text x="737" y="20.5" font-family="'Liberation Sans', 'DejaVu Sans', Arial, sans-serif" font-size="7" fill="#333" text-anchor="start" font-weight="normal" >E</text><path d="M754 5.5 L767 5.5" stroke="#777" stroke-width="1" stroke-dasharray="1 1"/><path d="M754 8.5 L767 8.5" stroke="#777" stroke-width="1" stroke-dasharray="1 1"/><path d="M754 11.5 L767 11.5" stroke="#777" stroke-width="1" stroke-dasharray="1 1"/><path d="M754 14.5 L767 14.5" stroke="#777" stroke-width="1" stroke-dasharray="1 1"/><text x="765" y="20.5" font-family="'Liberation Sans', 'DejaVu Sans', Arial, sans-serif" font-size="7" fill="#333" text-anchor="start" font-weight="normal" >F</text><text x="789.5" y="16" font-family="'Liberation Sans', 'DejaVu Sans', Arial, sans-serif" font-size="11" fill="#666" text-anchor="middle" font-weight="bold" >A</text><rect x="811.5" y="4.5" width="12" height="12" fill="none" stroke="#777" stroke-dasharray="1 1"/><text x="817.5" y="15" font-family="'Liberation Sans', 'DejaVu Sans', Arial, sans-serif" font-size="11" fill="#555" text-anchor="middle" font-weight="bold" >T</text><polygon points="839,6 843,3 846,6 843,9" fill="#333"/><polygon points="846,12 850,9 853,12 850,15" fill="#333"/><path d="M841 8 L848 12" stroke="#333"/><polygon points="860,10 865,10 862.5,13" fill="#000"/><text x="887" y="15" font-family="'Liberation Sans', 'DejaVu Sans', Arial, sans-serif" font-size="10" fill="#222" text-anchor="start" font-weight="normal" textLength="12.8" lengthAdjust="spacingAndGlyphs" >M1</text><text x="915" y="15" font-family="'Liberation Sans', 'DejaVu Sans', Arial, sans-serif" font-size="10" fill="#222" text-anchor="start" font-weight="normal" textLength="13" lengthAdjust="spacingAndGlyphs" >M5</text><text x="940.6" y="15" font-family="'Liberation Sans', 'DejaVu Sans', Arial, sans-serif" font-size="10" fill="#222" text-anchor="start" font-weight="normal" textLength="18" lengthAdjust="spacingAndGlyphs" >M15</text><text x="968.7" y="15" font-family="'Liberation Sans', 'DejaVu Sans', Arial, sans-serif" font-size="10" fill="#222" text-anchor="start" font-weight="normal" textLength="17.8" lengthAdjust="spacingAndGlyphs" >M30</text><text x="1000" y="15" font-family="'Liberation Sans', 'DejaVu Sans', Arial, sans-serif" font-size="10" fill="#222" text-anchor="start" font-weight="normal" textLength="11.5" lengthAdjust="spacingAndGlyphs" >H1</text><text x="1026" y="15" font-family="'Liberation Sans', 'DejaVu Sans', Arial, sans-serif" font-size="10" fill="#222" text-anchor="start" font-weight="normal" textLength="12.8" lengthAdjust="spacingAndGlyphs" >H4</text><text x="1055" y="15" font-family="'Liberation Sans', 'DejaVu Sans', Arial, sans-serif" font-size="10" fill="#222" text-anchor="start" font-weight="normal" textLength="12" lengthAdjust="spacingAndGlyphs" >D1</text><text x="1082" y="15" font-family="'Liberation Sans', 'DejaVu Sans', Arial, sans-serif" font-size="10" fill="#222" text-anchor="start" font-weight="normal" textLength="16.7" lengthAdjust="spacingAndGlyphs" >W1</text><text x="1109.4" y="15" font-family="'Liberation Sans', 'DejaVu Sans', Arial, sans-serif" font-size="10" fill="#222" text-anchor="start" font-weight="normal" textLength="15.3" lengthAdjust="spacingAndGlyphs" >MN</text><path d="M1599.3 11.3 L1595.8 15.2" stroke="#2a60d0" stroke-width="2.4" stroke-linecap="round"/><circle cx="1602.6" cy="8.4" r="3.7" fill="#f4f6ff" stroke="#2a68d8" stroke-width="1.3"/><path d="M1636.5 12 L1638.5 14.5 L1638 11.5 Z" fill="#666"/><ellipse cx="1635" cy="7.7" rx="6.3" ry="4.3" fill="#f6f6f8" stroke="#7a7a7a" stroke-width="0.9"/><path d="M1624 15 L1623.3 17.8 L1627 15.5 Z" fill="#555"/><ellipse cx="1626.5" cy="12.2" rx="5" ry="3.6" fill="#f8f8fa" stroke="#7a7a7a" stroke-width="0.9"/></g><polygon points="1369,28 1378,28 1373.5,32" fill="#a8a8a8"/></svg></body></html>
